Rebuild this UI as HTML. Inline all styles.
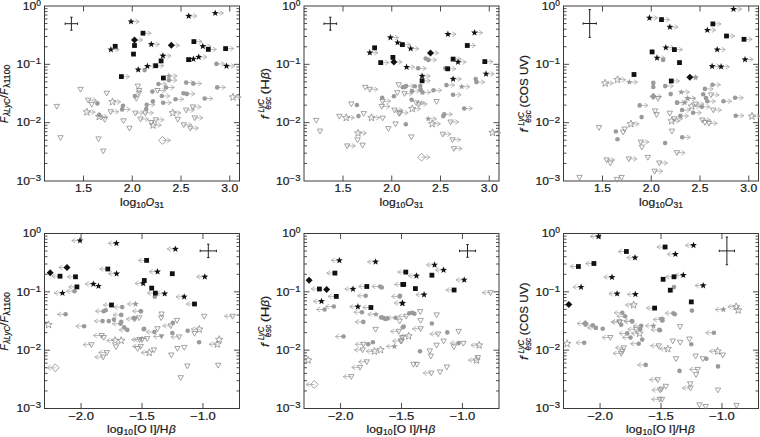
<!DOCTYPE html>
<html><head><meta charset="utf-8"><style>
html,body{margin:0;padding:0;background:#fff;}
svg{display:block;}
text{font-family:"Liberation Sans",sans-serif;font-size:11.2px;fill:#1a1a1a;stroke:#1a1a1a;stroke-width:0.22px;}
</style></head><body>
<svg width="760" height="437" viewBox="0 0 760 437">
<rect width="760" height="437" fill="#fff"/>
<path d="M83.50 181.00v-5.5M83.50 6.00v5.5M132.25 181.00v-5.5M132.25 6.00v5.5M181.00 181.00v-5.5M181.00 6.00v5.5M229.75 181.00v-5.5M229.75 6.00v5.5M44.50 163.44h3M239.50 163.44h-3M44.50 153.17h3M239.50 153.17h-3M44.50 145.88h3M239.50 145.88h-3M44.50 140.23h3M239.50 140.23h-3M44.50 135.61h3M239.50 135.61h-3M44.50 131.70h3M239.50 131.70h-3M44.50 128.32h3M239.50 128.32h-3M44.50 125.34h3M239.50 125.34h-3M44.50 122.67h5.5M239.50 122.67h-5.5M44.50 105.11h3M239.50 105.11h-3M44.50 94.83h3M239.50 94.83h-3M44.50 87.55h3M239.50 87.55h-3M44.50 81.89h3M239.50 81.89h-3M44.50 77.27h3M239.50 77.27h-3M44.50 73.37h3M239.50 73.37h-3M44.50 69.99h3M239.50 69.99h-3M44.50 67.00h3M239.50 67.00h-3M44.50 64.33h5.5M239.50 64.33h-5.5M44.50 46.77h3M239.50 46.77h-3M44.50 36.50h3M239.50 36.50h-3M44.50 29.21h3M239.50 29.21h-3M44.50 23.56h3M239.50 23.56h-3M44.50 18.94h3M239.50 18.94h-3M44.50 15.04h3M239.50 15.04h-3M44.50 11.65h3M239.50 11.65h-3M44.50 8.67h3M239.50 8.67h-3" stroke="#3a3a3a" stroke-width="0.9" fill="none"/>
<rect x="44.50" y="6.00" width="195.00" height="175.00" fill="none" stroke="#3a3a3a" stroke-width="1"/>
<g transform="translate(75.07 192.00)"><text x="0.00" y="0.00" textLength="16.86" lengthAdjust="spacingAndGlyphs">1.5</text></g>
<g transform="translate(123.82 192.00)"><text x="0.00" y="0.00" textLength="16.86" lengthAdjust="spacingAndGlyphs">2.0</text></g>
<g transform="translate(172.57 192.00)"><text x="0.00" y="0.00" textLength="16.86" lengthAdjust="spacingAndGlyphs">2.5</text></g>
<g transform="translate(221.32 192.00)"><text x="0.00" y="0.00" textLength="16.86" lengthAdjust="spacingAndGlyphs">3.0</text></g>
<g transform="translate(16.60 184.75)"><text x="0.00" y="0.00" textLength="13.49" lengthAdjust="spacingAndGlyphs">10</text><text x="13.49" y="-3.90" style="font-size:8.3px" textLength="10.91" lengthAdjust="spacingAndGlyphs">−3</text></g>
<g transform="translate(16.60 126.42)"><text x="0.00" y="0.00" textLength="13.49" lengthAdjust="spacingAndGlyphs">10</text><text x="13.49" y="-3.90" style="font-size:8.3px" textLength="10.91" lengthAdjust="spacingAndGlyphs">−2</text></g>
<g transform="translate(16.60 68.08)"><text x="0.00" y="0.00" textLength="13.49" lengthAdjust="spacingAndGlyphs">10</text><text x="13.49" y="-3.90" style="font-size:8.3px" textLength="10.91" lengthAdjust="spacingAndGlyphs">−1</text></g>
<g transform="translate(22.80 9.75)"><text x="0.00" y="0.00" textLength="13.49" lengthAdjust="spacingAndGlyphs">10</text><text x="13.49" y="-3.90" style="font-size:8.3px" textLength="4.71" lengthAdjust="spacingAndGlyphs">0</text></g>
<path d="M343.00 181.00v-5.5M343.00 6.00v5.5M391.75 181.00v-5.5M391.75 6.00v5.5M440.50 181.00v-5.5M440.50 6.00v5.5M489.25 181.00v-5.5M489.25 6.00v5.5M304.00 163.44h3M499.00 163.44h-3M304.00 153.17h3M499.00 153.17h-3M304.00 145.88h3M499.00 145.88h-3M304.00 140.23h3M499.00 140.23h-3M304.00 135.61h3M499.00 135.61h-3M304.00 131.70h3M499.00 131.70h-3M304.00 128.32h3M499.00 128.32h-3M304.00 125.34h3M499.00 125.34h-3M304.00 122.67h5.5M499.00 122.67h-5.5M304.00 105.11h3M499.00 105.11h-3M304.00 94.83h3M499.00 94.83h-3M304.00 87.55h3M499.00 87.55h-3M304.00 81.89h3M499.00 81.89h-3M304.00 77.27h3M499.00 77.27h-3M304.00 73.37h3M499.00 73.37h-3M304.00 69.99h3M499.00 69.99h-3M304.00 67.00h3M499.00 67.00h-3M304.00 64.33h5.5M499.00 64.33h-5.5M304.00 46.77h3M499.00 46.77h-3M304.00 36.50h3M499.00 36.50h-3M304.00 29.21h3M499.00 29.21h-3M304.00 23.56h3M499.00 23.56h-3M304.00 18.94h3M499.00 18.94h-3M304.00 15.04h3M499.00 15.04h-3M304.00 11.65h3M499.00 11.65h-3M304.00 8.67h3M499.00 8.67h-3" stroke="#3a3a3a" stroke-width="0.9" fill="none"/>
<rect x="304.00" y="6.00" width="195.00" height="175.00" fill="none" stroke="#3a3a3a" stroke-width="1"/>
<g transform="translate(334.57 192.00)"><text x="0.00" y="0.00" textLength="16.86" lengthAdjust="spacingAndGlyphs">1.5</text></g>
<g transform="translate(383.32 192.00)"><text x="0.00" y="0.00" textLength="16.86" lengthAdjust="spacingAndGlyphs">2.0</text></g>
<g transform="translate(432.07 192.00)"><text x="0.00" y="0.00" textLength="16.86" lengthAdjust="spacingAndGlyphs">2.5</text></g>
<g transform="translate(480.82 192.00)"><text x="0.00" y="0.00" textLength="16.86" lengthAdjust="spacingAndGlyphs">3.0</text></g>
<g transform="translate(276.10 184.75)"><text x="0.00" y="0.00" textLength="13.49" lengthAdjust="spacingAndGlyphs">10</text><text x="13.49" y="-3.90" style="font-size:8.3px" textLength="10.91" lengthAdjust="spacingAndGlyphs">−3</text></g>
<g transform="translate(276.10 126.42)"><text x="0.00" y="0.00" textLength="13.49" lengthAdjust="spacingAndGlyphs">10</text><text x="13.49" y="-3.90" style="font-size:8.3px" textLength="10.91" lengthAdjust="spacingAndGlyphs">−2</text></g>
<g transform="translate(276.10 68.08)"><text x="0.00" y="0.00" textLength="13.49" lengthAdjust="spacingAndGlyphs">10</text><text x="13.49" y="-3.90" style="font-size:8.3px" textLength="10.91" lengthAdjust="spacingAndGlyphs">−1</text></g>
<g transform="translate(282.30 9.75)"><text x="0.00" y="0.00" textLength="13.49" lengthAdjust="spacingAndGlyphs">10</text><text x="13.49" y="-3.90" style="font-size:8.3px" textLength="4.71" lengthAdjust="spacingAndGlyphs">0</text></g>
<path d="M602.50 181.00v-5.5M602.50 6.00v5.5M651.25 181.00v-5.5M651.25 6.00v5.5M700.00 181.00v-5.5M700.00 6.00v5.5M748.75 181.00v-5.5M748.75 6.00v5.5M563.50 163.44h3M758.50 163.44h-3M563.50 153.17h3M758.50 153.17h-3M563.50 145.88h3M758.50 145.88h-3M563.50 140.23h3M758.50 140.23h-3M563.50 135.61h3M758.50 135.61h-3M563.50 131.70h3M758.50 131.70h-3M563.50 128.32h3M758.50 128.32h-3M563.50 125.34h3M758.50 125.34h-3M563.50 122.67h5.5M758.50 122.67h-5.5M563.50 105.11h3M758.50 105.11h-3M563.50 94.83h3M758.50 94.83h-3M563.50 87.55h3M758.50 87.55h-3M563.50 81.89h3M758.50 81.89h-3M563.50 77.27h3M758.50 77.27h-3M563.50 73.37h3M758.50 73.37h-3M563.50 69.99h3M758.50 69.99h-3M563.50 67.00h3M758.50 67.00h-3M563.50 64.33h5.5M758.50 64.33h-5.5M563.50 46.77h3M758.50 46.77h-3M563.50 36.50h3M758.50 36.50h-3M563.50 29.21h3M758.50 29.21h-3M563.50 23.56h3M758.50 23.56h-3M563.50 18.94h3M758.50 18.94h-3M563.50 15.04h3M758.50 15.04h-3M563.50 11.65h3M758.50 11.65h-3M563.50 8.67h3M758.50 8.67h-3" stroke="#3a3a3a" stroke-width="0.9" fill="none"/>
<rect x="563.50" y="6.00" width="195.00" height="175.00" fill="none" stroke="#3a3a3a" stroke-width="1"/>
<g transform="translate(594.07 192.00)"><text x="0.00" y="0.00" textLength="16.86" lengthAdjust="spacingAndGlyphs">1.5</text></g>
<g transform="translate(642.82 192.00)"><text x="0.00" y="0.00" textLength="16.86" lengthAdjust="spacingAndGlyphs">2.0</text></g>
<g transform="translate(691.57 192.00)"><text x="0.00" y="0.00" textLength="16.86" lengthAdjust="spacingAndGlyphs">2.5</text></g>
<g transform="translate(740.32 192.00)"><text x="0.00" y="0.00" textLength="16.86" lengthAdjust="spacingAndGlyphs">3.0</text></g>
<g transform="translate(535.60 184.75)"><text x="0.00" y="0.00" textLength="13.49" lengthAdjust="spacingAndGlyphs">10</text><text x="13.49" y="-3.90" style="font-size:8.3px" textLength="10.91" lengthAdjust="spacingAndGlyphs">−3</text></g>
<g transform="translate(535.60 126.42)"><text x="0.00" y="0.00" textLength="13.49" lengthAdjust="spacingAndGlyphs">10</text><text x="13.49" y="-3.90" style="font-size:8.3px" textLength="10.91" lengthAdjust="spacingAndGlyphs">−2</text></g>
<g transform="translate(535.60 68.08)"><text x="0.00" y="0.00" textLength="13.49" lengthAdjust="spacingAndGlyphs">10</text><text x="13.49" y="-3.90" style="font-size:8.3px" textLength="10.91" lengthAdjust="spacingAndGlyphs">−1</text></g>
<g transform="translate(541.80 9.75)"><text x="0.00" y="0.00" textLength="13.49" lengthAdjust="spacingAndGlyphs">10</text><text x="13.49" y="-3.90" style="font-size:8.3px" textLength="4.71" lengthAdjust="spacingAndGlyphs">0</text></g>
<path d="M81.06 408.50v-5.5M81.06 233.50v5.5M142.00 408.50v-5.5M142.00 233.50v5.5M202.94 408.50v-5.5M202.94 233.50v5.5M44.50 390.94h3M239.50 390.94h-3M44.50 380.67h3M239.50 380.67h-3M44.50 373.38h3M239.50 373.38h-3M44.50 367.73h3M239.50 367.73h-3M44.50 363.11h3M239.50 363.11h-3M44.50 359.20h3M239.50 359.20h-3M44.50 355.82h3M239.50 355.82h-3M44.50 352.84h3M239.50 352.84h-3M44.50 350.17h5.5M239.50 350.17h-5.5M44.50 332.61h3M239.50 332.61h-3M44.50 322.33h3M239.50 322.33h-3M44.50 315.05h3M239.50 315.05h-3M44.50 309.39h3M239.50 309.39h-3M44.50 304.77h3M239.50 304.77h-3M44.50 300.87h3M239.50 300.87h-3M44.50 297.49h3M239.50 297.49h-3M44.50 294.50h3M239.50 294.50h-3M44.50 291.83h5.5M239.50 291.83h-5.5M44.50 274.27h3M239.50 274.27h-3M44.50 264.00h3M239.50 264.00h-3M44.50 256.71h3M239.50 256.71h-3M44.50 251.06h3M239.50 251.06h-3M44.50 246.44h3M239.50 246.44h-3M44.50 242.54h3M239.50 242.54h-3M44.50 239.15h3M239.50 239.15h-3M44.50 236.17h3M239.50 236.17h-3" stroke="#3a3a3a" stroke-width="0.9" fill="none"/>
<rect x="44.50" y="233.50" width="195.00" height="175.00" fill="none" stroke="#3a3a3a" stroke-width="1"/>
<g transform="translate(68.19 419.50)"><text x="0.00" y="0.00" textLength="25.74" lengthAdjust="spacingAndGlyphs">−2.0</text></g>
<g transform="translate(129.13 419.50)"><text x="0.00" y="0.00" textLength="25.74" lengthAdjust="spacingAndGlyphs">−1.5</text></g>
<g transform="translate(190.07 419.50)"><text x="0.00" y="0.00" textLength="25.74" lengthAdjust="spacingAndGlyphs">−1.0</text></g>
<g transform="translate(16.60 412.25)"><text x="0.00" y="0.00" textLength="13.49" lengthAdjust="spacingAndGlyphs">10</text><text x="13.49" y="-3.90" style="font-size:8.3px" textLength="10.91" lengthAdjust="spacingAndGlyphs">−3</text></g>
<g transform="translate(16.60 353.92)"><text x="0.00" y="0.00" textLength="13.49" lengthAdjust="spacingAndGlyphs">10</text><text x="13.49" y="-3.90" style="font-size:8.3px" textLength="10.91" lengthAdjust="spacingAndGlyphs">−2</text></g>
<g transform="translate(16.60 295.58)"><text x="0.00" y="0.00" textLength="13.49" lengthAdjust="spacingAndGlyphs">10</text><text x="13.49" y="-3.90" style="font-size:8.3px" textLength="10.91" lengthAdjust="spacingAndGlyphs">−1</text></g>
<g transform="translate(22.80 237.25)"><text x="0.00" y="0.00" textLength="13.49" lengthAdjust="spacingAndGlyphs">10</text><text x="13.49" y="-3.90" style="font-size:8.3px" textLength="4.71" lengthAdjust="spacingAndGlyphs">0</text></g>
<path d="M340.56 408.50v-5.5M340.56 233.50v5.5M401.50 408.50v-5.5M401.50 233.50v5.5M462.44 408.50v-5.5M462.44 233.50v5.5M304.00 390.94h3M499.00 390.94h-3M304.00 380.67h3M499.00 380.67h-3M304.00 373.38h3M499.00 373.38h-3M304.00 367.73h3M499.00 367.73h-3M304.00 363.11h3M499.00 363.11h-3M304.00 359.20h3M499.00 359.20h-3M304.00 355.82h3M499.00 355.82h-3M304.00 352.84h3M499.00 352.84h-3M304.00 350.17h5.5M499.00 350.17h-5.5M304.00 332.61h3M499.00 332.61h-3M304.00 322.33h3M499.00 322.33h-3M304.00 315.05h3M499.00 315.05h-3M304.00 309.39h3M499.00 309.39h-3M304.00 304.77h3M499.00 304.77h-3M304.00 300.87h3M499.00 300.87h-3M304.00 297.49h3M499.00 297.49h-3M304.00 294.50h3M499.00 294.50h-3M304.00 291.83h5.5M499.00 291.83h-5.5M304.00 274.27h3M499.00 274.27h-3M304.00 264.00h3M499.00 264.00h-3M304.00 256.71h3M499.00 256.71h-3M304.00 251.06h3M499.00 251.06h-3M304.00 246.44h3M499.00 246.44h-3M304.00 242.54h3M499.00 242.54h-3M304.00 239.15h3M499.00 239.15h-3M304.00 236.17h3M499.00 236.17h-3" stroke="#3a3a3a" stroke-width="0.9" fill="none"/>
<rect x="304.00" y="233.50" width="195.00" height="175.00" fill="none" stroke="#3a3a3a" stroke-width="1"/>
<g transform="translate(327.69 419.50)"><text x="0.00" y="0.00" textLength="25.74" lengthAdjust="spacingAndGlyphs">−2.0</text></g>
<g transform="translate(388.63 419.50)"><text x="0.00" y="0.00" textLength="25.74" lengthAdjust="spacingAndGlyphs">−1.5</text></g>
<g transform="translate(449.57 419.50)"><text x="0.00" y="0.00" textLength="25.74" lengthAdjust="spacingAndGlyphs">−1.0</text></g>
<g transform="translate(276.10 412.25)"><text x="0.00" y="0.00" textLength="13.49" lengthAdjust="spacingAndGlyphs">10</text><text x="13.49" y="-3.90" style="font-size:8.3px" textLength="10.91" lengthAdjust="spacingAndGlyphs">−3</text></g>
<g transform="translate(276.10 353.92)"><text x="0.00" y="0.00" textLength="13.49" lengthAdjust="spacingAndGlyphs">10</text><text x="13.49" y="-3.90" style="font-size:8.3px" textLength="10.91" lengthAdjust="spacingAndGlyphs">−2</text></g>
<g transform="translate(276.10 295.58)"><text x="0.00" y="0.00" textLength="13.49" lengthAdjust="spacingAndGlyphs">10</text><text x="13.49" y="-3.90" style="font-size:8.3px" textLength="10.91" lengthAdjust="spacingAndGlyphs">−1</text></g>
<g transform="translate(282.30 237.25)"><text x="0.00" y="0.00" textLength="13.49" lengthAdjust="spacingAndGlyphs">10</text><text x="13.49" y="-3.90" style="font-size:8.3px" textLength="4.71" lengthAdjust="spacingAndGlyphs">0</text></g>
<path d="M600.06 408.50v-5.5M600.06 233.50v5.5M661.00 408.50v-5.5M661.00 233.50v5.5M721.94 408.50v-5.5M721.94 233.50v5.5M563.50 390.94h3M758.50 390.94h-3M563.50 380.67h3M758.50 380.67h-3M563.50 373.38h3M758.50 373.38h-3M563.50 367.73h3M758.50 367.73h-3M563.50 363.11h3M758.50 363.11h-3M563.50 359.20h3M758.50 359.20h-3M563.50 355.82h3M758.50 355.82h-3M563.50 352.84h3M758.50 352.84h-3M563.50 350.17h5.5M758.50 350.17h-5.5M563.50 332.61h3M758.50 332.61h-3M563.50 322.33h3M758.50 322.33h-3M563.50 315.05h3M758.50 315.05h-3M563.50 309.39h3M758.50 309.39h-3M563.50 304.77h3M758.50 304.77h-3M563.50 300.87h3M758.50 300.87h-3M563.50 297.49h3M758.50 297.49h-3M563.50 294.50h3M758.50 294.50h-3M563.50 291.83h5.5M758.50 291.83h-5.5M563.50 274.27h3M758.50 274.27h-3M563.50 264.00h3M758.50 264.00h-3M563.50 256.71h3M758.50 256.71h-3M563.50 251.06h3M758.50 251.06h-3M563.50 246.44h3M758.50 246.44h-3M563.50 242.54h3M758.50 242.54h-3M563.50 239.15h3M758.50 239.15h-3M563.50 236.17h3M758.50 236.17h-3" stroke="#3a3a3a" stroke-width="0.9" fill="none"/>
<rect x="563.50" y="233.50" width="195.00" height="175.00" fill="none" stroke="#3a3a3a" stroke-width="1"/>
<g transform="translate(587.19 419.50)"><text x="0.00" y="0.00" textLength="25.74" lengthAdjust="spacingAndGlyphs">−2.0</text></g>
<g transform="translate(648.13 419.50)"><text x="0.00" y="0.00" textLength="25.74" lengthAdjust="spacingAndGlyphs">−1.5</text></g>
<g transform="translate(709.07 419.50)"><text x="0.00" y="0.00" textLength="25.74" lengthAdjust="spacingAndGlyphs">−1.0</text></g>
<g transform="translate(535.60 412.25)"><text x="0.00" y="0.00" textLength="13.49" lengthAdjust="spacingAndGlyphs">10</text><text x="13.49" y="-3.90" style="font-size:8.3px" textLength="10.91" lengthAdjust="spacingAndGlyphs">−3</text></g>
<g transform="translate(535.60 353.92)"><text x="0.00" y="0.00" textLength="13.49" lengthAdjust="spacingAndGlyphs">10</text><text x="13.49" y="-3.90" style="font-size:8.3px" textLength="10.91" lengthAdjust="spacingAndGlyphs">−2</text></g>
<g transform="translate(535.60 295.58)"><text x="0.00" y="0.00" textLength="13.49" lengthAdjust="spacingAndGlyphs">10</text><text x="13.49" y="-3.90" style="font-size:8.3px" textLength="10.91" lengthAdjust="spacingAndGlyphs">−1</text></g>
<g transform="translate(541.80 237.25)"><text x="0.00" y="0.00" textLength="13.49" lengthAdjust="spacingAndGlyphs">10</text><text x="13.49" y="-3.90" style="font-size:8.3px" textLength="4.71" lengthAdjust="spacingAndGlyphs">0</text></g>
<g transform="translate(120.08 206.00)"><text x="0.00" y="0.00" textLength="16.16" lengthAdjust="spacingAndGlyphs">log</text><text x="16.16" y="1.80" style="font-size:8.3px" textLength="9.42" lengthAdjust="spacingAndGlyphs">10</text><text x="25.77" y="0.00" font-style="italic" textLength="8.34" lengthAdjust="spacingAndGlyphs">O</text><text x="34.42" y="1.80" style="font-size:8.3px" textLength="9.42" lengthAdjust="spacingAndGlyphs">31</text></g>
<g transform="translate(379.58 206.00)"><text x="0.00" y="0.00" textLength="16.16" lengthAdjust="spacingAndGlyphs">log</text><text x="16.16" y="1.80" style="font-size:8.3px" textLength="9.42" lengthAdjust="spacingAndGlyphs">10</text><text x="25.77" y="0.00" font-style="italic" textLength="8.34" lengthAdjust="spacingAndGlyphs">O</text><text x="34.42" y="1.80" style="font-size:8.3px" textLength="9.42" lengthAdjust="spacingAndGlyphs">31</text></g>
<g transform="translate(639.08 206.00)"><text x="0.00" y="0.00" textLength="16.16" lengthAdjust="spacingAndGlyphs">log</text><text x="16.16" y="1.80" style="font-size:8.3px" textLength="9.42" lengthAdjust="spacingAndGlyphs">10</text><text x="25.77" y="0.00" font-style="italic" textLength="8.34" lengthAdjust="spacingAndGlyphs">O</text><text x="34.42" y="1.80" style="font-size:8.3px" textLength="9.42" lengthAdjust="spacingAndGlyphs">31</text></g>
<g transform="translate(107.05 433.20)"><text x="0.00" y="0.00" textLength="16.16" lengthAdjust="spacingAndGlyphs">log</text><text x="16.56" y="1.80" style="font-size:8.3px" textLength="9.42" lengthAdjust="spacingAndGlyphs">10</text><text x="26.77" y="0.00" textLength="34.65" lengthAdjust="spacingAndGlyphs">[O I]/H</text><text x="61.93" y="0.00" font-style="italic" textLength="6.76" lengthAdjust="spacingAndGlyphs">β</text></g>
<g transform="translate(366.55 433.20)"><text x="0.00" y="0.00" textLength="16.16" lengthAdjust="spacingAndGlyphs">log</text><text x="16.56" y="1.80" style="font-size:8.3px" textLength="9.42" lengthAdjust="spacingAndGlyphs">10</text><text x="26.77" y="0.00" textLength="34.65" lengthAdjust="spacingAndGlyphs">[O I]/H</text><text x="61.93" y="0.00" font-style="italic" textLength="6.76" lengthAdjust="spacingAndGlyphs">β</text></g>
<g transform="translate(626.05 433.20)"><text x="0.00" y="0.00" textLength="16.16" lengthAdjust="spacingAndGlyphs">log</text><text x="16.56" y="1.80" style="font-size:8.3px" textLength="9.42" lengthAdjust="spacingAndGlyphs">10</text><text x="26.77" y="0.00" textLength="34.65" lengthAdjust="spacingAndGlyphs">[O I]/H</text><text x="61.93" y="0.00" font-style="italic" textLength="6.76" lengthAdjust="spacingAndGlyphs">β</text></g>
<g transform="translate(7.80 93.70) rotate(-90) translate(-29.18 0)"><text x="0.00" y="0.00" font-style="italic" textLength="6.10" lengthAdjust="spacingAndGlyphs">F</text><text x="6.90" y="2.50" style="font-size:8.3px" font-style="italic" textLength="17.78" lengthAdjust="spacingAndGlyphs">λLyC</text><text x="24.68" y="0.00" textLength="3.57" lengthAdjust="spacingAndGlyphs">/</text><text x="28.25" y="0.00" font-style="italic" textLength="6.10" lengthAdjust="spacingAndGlyphs">F</text><text x="35.15" y="2.50" style="font-size:8.3px" textLength="23.21" lengthAdjust="spacingAndGlyphs">λ1100</text></g>
<g transform="translate(268.50 93.70) rotate(-90) translate(-25.56 0)"><text x="0.00" y="0.00" font-style="italic" textLength="3.73" lengthAdjust="spacingAndGlyphs">f</text><text x="6.73" y="-4.40" style="font-size:8.3px" font-style="italic" textLength="13.41" lengthAdjust="spacingAndGlyphs">LyC</text><text x="9.73" y="2.60" style="font-size:8.3px" font-style="italic" textLength="12.48" lengthAdjust="spacingAndGlyphs">esc</text><text x="24.74" y="0.00" textLength="15.48" lengthAdjust="spacingAndGlyphs"> (H</text><text x="40.21" y="0.00" font-style="italic" textLength="6.76" lengthAdjust="spacingAndGlyphs">β</text><text x="46.98" y="0.00" textLength="4.14" lengthAdjust="spacingAndGlyphs">)</text></g>
<g transform="translate(528.00 93.70) rotate(-90) translate(-38.72 0)"><text x="0.00" y="0.00" font-style="italic" textLength="3.73" lengthAdjust="spacingAndGlyphs">f</text><text x="6.73" y="-4.40" style="font-size:8.3px" font-style="italic" textLength="13.41" lengthAdjust="spacingAndGlyphs">LyC</text><text x="9.73" y="2.60" style="font-size:8.3px" font-style="italic" textLength="12.48" lengthAdjust="spacingAndGlyphs">esc</text><text x="24.94" y="0.00" textLength="52.49" lengthAdjust="spacingAndGlyphs"> (COS UV)</text></g>
<g transform="translate(7.80 321.40) rotate(-90) translate(-29.18 0)"><text x="0.00" y="0.00" font-style="italic" textLength="6.10" lengthAdjust="spacingAndGlyphs">F</text><text x="6.90" y="2.50" style="font-size:8.3px" font-style="italic" textLength="17.78" lengthAdjust="spacingAndGlyphs">λLyC</text><text x="24.68" y="0.00" textLength="3.57" lengthAdjust="spacingAndGlyphs">/</text><text x="28.25" y="0.00" font-style="italic" textLength="6.10" lengthAdjust="spacingAndGlyphs">F</text><text x="35.15" y="2.50" style="font-size:8.3px" textLength="23.21" lengthAdjust="spacingAndGlyphs">λ1100</text></g>
<g transform="translate(268.50 321.40) rotate(-90) translate(-25.56 0)"><text x="0.00" y="0.00" font-style="italic" textLength="3.73" lengthAdjust="spacingAndGlyphs">f</text><text x="6.73" y="-4.40" style="font-size:8.3px" font-style="italic" textLength="13.41" lengthAdjust="spacingAndGlyphs">LyC</text><text x="9.73" y="2.60" style="font-size:8.3px" font-style="italic" textLength="12.48" lengthAdjust="spacingAndGlyphs">esc</text><text x="24.74" y="0.00" textLength="15.48" lengthAdjust="spacingAndGlyphs"> (H</text><text x="40.21" y="0.00" font-style="italic" textLength="6.76" lengthAdjust="spacingAndGlyphs">β</text><text x="46.98" y="0.00" textLength="4.14" lengthAdjust="spacingAndGlyphs">)</text></g>
<g transform="translate(528.00 321.40) rotate(-90) translate(-38.72 0)"><text x="0.00" y="0.00" font-style="italic" textLength="3.73" lengthAdjust="spacingAndGlyphs">f</text><text x="6.73" y="-4.40" style="font-size:8.3px" font-style="italic" textLength="13.41" lengthAdjust="spacingAndGlyphs">LyC</text><text x="9.73" y="2.60" style="font-size:8.3px" font-style="italic" textLength="12.48" lengthAdjust="spacingAndGlyphs">esc</text><text x="24.94" y="0.00" textLength="52.49" lengthAdjust="spacingAndGlyphs"> (COS UV)</text></g>
<path d="M157.50 90.50H165.70M162.10 88.10L165.70 90.50L162.10 92.90" stroke="#a8a8a8" stroke-width="0.8" fill="none"/>
<path d="M233.00 97.20H241.20M237.60 94.80L241.20 97.20L237.60 99.60" stroke="#a8a8a8" stroke-width="0.8" fill="none"/>
<path d="M145.30 112.90H153.50M149.90 110.50L153.50 112.90L149.90 115.30" stroke="#a8a8a8" stroke-width="0.8" fill="none"/>
<path d="M140.50 119.10H148.70M145.10 116.70L148.70 119.10L145.10 121.50" stroke="#a8a8a8" stroke-width="0.8" fill="none"/>
<path d="M155.90 119.80H164.10M160.50 117.40L164.10 119.80L160.50 122.20" stroke="#a8a8a8" stroke-width="0.8" fill="none"/>
<path d="M153.10 125.20H161.30M157.70 122.80L161.30 125.20L157.70 127.60" stroke="#a8a8a8" stroke-width="0.8" fill="none"/>
<path d="M172.80 112.90H181.00M177.40 110.50L181.00 112.90L177.40 115.30" stroke="#a8a8a8" stroke-width="0.8" fill="none"/>
<path d="M186.10 110.10H194.30M190.70 107.70L194.30 110.10L190.70 112.50" stroke="#a8a8a8" stroke-width="0.8" fill="none"/>
<path d="M192.90 106.90H201.10M197.50 104.50L201.10 106.90L197.50 109.30" stroke="#a8a8a8" stroke-width="0.8" fill="none"/>
<path d="M194.80 117.90H203.00M199.40 115.50L203.00 117.90L199.40 120.30" stroke="#a8a8a8" stroke-width="0.8" fill="none"/>
<path d="M183.80 124.80H192.00M188.40 122.40L192.00 124.80L188.40 127.20" stroke="#a8a8a8" stroke-width="0.8" fill="none"/>
<path d="M190.30 128.20H198.50M194.90 125.80L198.50 128.20L194.90 130.60" stroke="#a8a8a8" stroke-width="0.8" fill="none"/>
<path d="M162.50 140.40H170.70M167.10 138.00L170.70 140.40L167.10 142.80" stroke="#a8a8a8" stroke-width="0.8" fill="none"/>
<path d="M88.20 100.20H96.40M92.80 97.80L96.40 100.20L92.80 102.60" stroke="#a8a8a8" stroke-width="0.8" fill="none"/>
<path d="M112.50 101.90H120.70M117.10 99.50L120.70 101.90L117.10 104.30" stroke="#a8a8a8" stroke-width="0.8" fill="none"/>
<path d="M86.90 112.10H95.10M91.50 109.70L95.10 112.10L91.50 114.50" stroke="#a8a8a8" stroke-width="0.8" fill="none"/>
<path d="M99.20 116.70H107.40M103.80 114.30L107.40 116.70L103.80 119.10" stroke="#a8a8a8" stroke-width="0.8" fill="none"/>
<path d="M110.70 111.70H118.90M115.30 109.30L118.90 111.70L115.30 114.10" stroke="#a8a8a8" stroke-width="0.8" fill="none"/>
<path d="M135.40 113.10H143.60M140.00 110.70L143.60 113.10L140.00 115.50" stroke="#a8a8a8" stroke-width="0.8" fill="none"/>
<path d="M216.50 63.90H224.70M221.10 61.50L224.70 63.90L221.10 66.30" stroke="#a8a8a8" stroke-width="0.8" fill="none"/>
<path d="M168.90 76.00H177.10M173.50 73.60L177.10 76.00L173.50 78.40" stroke="#a8a8a8" stroke-width="0.8" fill="none"/>
<path d="M168.90 80.20H177.10M173.50 77.80L177.10 80.20L173.50 82.60" stroke="#a8a8a8" stroke-width="0.8" fill="none"/>
<path d="M158.40 84.00H166.60M163.00 81.60L166.60 84.00L163.00 86.40" stroke="#a8a8a8" stroke-width="0.8" fill="none"/>
<path d="M166.10 87.50H174.30M170.70 85.10L174.30 87.50L170.70 89.90" stroke="#a8a8a8" stroke-width="0.8" fill="none"/>
<path d="M186.20 82.60H194.40M190.80 80.20L194.40 82.60L190.80 85.00" stroke="#a8a8a8" stroke-width="0.8" fill="none"/>
<path d="M193.40 83.60H201.60M198.00 81.20L201.60 83.60L198.00 86.00" stroke="#a8a8a8" stroke-width="0.8" fill="none"/>
<path d="M217.20 87.40H225.40M221.80 85.00L225.40 87.40L221.80 89.80" stroke="#a8a8a8" stroke-width="0.8" fill="none"/>
<path d="M186.80 93.90H195.00M191.40 91.50L195.00 93.90L191.40 96.30" stroke="#a8a8a8" stroke-width="0.8" fill="none"/>
<path d="M175.50 99.30H183.70M180.10 96.90L183.70 99.30L180.10 101.70" stroke="#a8a8a8" stroke-width="0.8" fill="none"/>
<path d="M204.70 98.50H212.90M209.30 96.10L212.90 98.50L209.30 100.90" stroke="#a8a8a8" stroke-width="0.8" fill="none"/>
<path d="M161.80 96.00H170.00M166.40 93.60L170.00 96.00L166.40 98.40" stroke="#a8a8a8" stroke-width="0.8" fill="none"/>
<path d="M163.20 102.80H171.40M167.80 100.40L171.40 102.80L167.80 105.20" stroke="#a8a8a8" stroke-width="0.8" fill="none"/>
<path d="M146.70 104.70H154.90M151.30 102.30L154.90 104.70L151.30 107.10" stroke="#a8a8a8" stroke-width="0.8" fill="none"/>
<path d="M122.10 109.40H130.30M126.70 107.00L130.30 109.40L126.70 111.80" stroke="#a8a8a8" stroke-width="0.8" fill="none"/>
<path d="M131.00 21.60H139.20M135.60 19.20L139.20 21.60L135.60 24.00" stroke="#a8a8a8" stroke-width="0.8" fill="none"/>
<path d="M143.00 33.20H151.20M147.60 30.80L151.20 33.20L147.60 35.60" stroke="#a8a8a8" stroke-width="0.8" fill="none"/>
<path d="M134.50 40.00H142.70M139.10 37.60L142.70 40.00L139.10 42.40" stroke="#a8a8a8" stroke-width="0.8" fill="none"/>
<path d="M110.90 49.60H119.10M115.50 47.20L119.10 49.60L115.50 52.00" stroke="#a8a8a8" stroke-width="0.8" fill="none"/>
<path d="M121.40 76.60H129.60M126.00 74.20L129.60 76.60L126.00 79.00" stroke="#a8a8a8" stroke-width="0.8" fill="none"/>
<path d="M188.70 16.00H196.90M193.30 13.60L196.90 16.00L193.30 18.40" stroke="#a8a8a8" stroke-width="0.8" fill="none"/>
<path d="M215.20 13.10H223.40M219.80 10.70L223.40 13.10L219.80 15.50" stroke="#a8a8a8" stroke-width="0.8" fill="none"/>
<path d="M151.30 44.30H159.50M155.90 41.90L159.50 44.30L155.90 46.70" stroke="#a8a8a8" stroke-width="0.8" fill="none"/>
<path d="M171.30 45.30H179.50M175.90 42.90L179.50 45.30L175.90 47.70" stroke="#a8a8a8" stroke-width="0.8" fill="none"/>
<path d="M193.90 41.60H202.10M198.50 39.20L202.10 41.60L198.50 44.00" stroke="#a8a8a8" stroke-width="0.8" fill="none"/>
<path d="M202.80 46.30H211.00M207.40 43.90L211.00 46.30L207.40 48.70" stroke="#a8a8a8" stroke-width="0.8" fill="none"/>
<path d="M208.30 49.40H216.50M212.90 47.00L216.50 49.40L212.90 51.80" stroke="#a8a8a8" stroke-width="0.8" fill="none"/>
<path d="M225.60 48.60H233.80M230.20 46.20L233.80 48.60L230.20 51.00" stroke="#a8a8a8" stroke-width="0.8" fill="none"/>
<path d="M162.90 55.80H171.10M167.50 53.40L171.10 55.80L167.50 58.20" stroke="#a8a8a8" stroke-width="0.8" fill="none"/>
<path d="M155.70 65.70H163.90M160.30 63.30L163.90 65.70L160.30 68.10" stroke="#a8a8a8" stroke-width="0.8" fill="none"/>
<path d="M147.40 66.20H155.60M152.00 63.80L155.60 66.20L152.00 68.60" stroke="#a8a8a8" stroke-width="0.8" fill="none"/>
<path d="M198.70 57.00H206.90M203.30 54.60L206.90 57.00L203.30 59.40" stroke="#a8a8a8" stroke-width="0.8" fill="none"/>
<path d="M226.50 66.00H234.70M231.10 63.60L234.70 66.00L231.10 68.40" stroke="#a8a8a8" stroke-width="0.8" fill="none"/>
<polygon points="135.10,84.10 140.50,84.10 137.80,88.90" fill="none" stroke="#8c8c8c" stroke-width="0.8"/>
<polygon points="136.40,88.50 141.80,88.50 139.10,93.30" fill="none" stroke="#8c8c8c" stroke-width="0.8"/>
<polygon points="154.80,88.50 160.20,88.50 157.50,93.30" fill="none" stroke="#8c8c8c" stroke-width="0.8"/>
<polygon points="77.90,87.30 83.30,87.30 80.60,92.10" fill="none" stroke="#8c8c8c" stroke-width="0.8"/>
<polygon points="104.00,91.20 109.40,91.20 106.70,96.00" fill="none" stroke="#8c8c8c" stroke-width="0.8"/>
<polygon points="133.60,96.40 139.00,96.40 136.30,101.20" fill="none" stroke="#8c8c8c" stroke-width="0.8"/>
<polygon points="233.00,93.30 233.97,95.87 236.71,95.99 234.57,97.71 235.29,100.36 233.00,98.85 230.71,100.36 231.43,97.71 229.29,95.99 232.03,95.87" fill="none" stroke="#8c8c8c" stroke-width="0.8"/>
<polygon points="142.60,110.90 148.00,110.90 145.30,115.70" fill="none" stroke="#8c8c8c" stroke-width="0.8"/>
<polygon points="137.80,117.10 143.20,117.10 140.50,121.90" fill="none" stroke="#8c8c8c" stroke-width="0.8"/>
<polygon points="148.60,120.50 154.00,120.50 151.30,125.30" fill="none" stroke="#8c8c8c" stroke-width="0.8"/>
<polygon points="153.20,117.80 158.60,117.80 155.90,122.60" fill="none" stroke="#8c8c8c" stroke-width="0.8"/>
<polygon points="153.10,121.30 154.07,123.87 156.81,123.99 154.67,125.71 155.39,128.36 153.10,126.85 150.81,128.36 151.53,125.71 149.39,123.99 152.13,123.87" fill="none" stroke="#8c8c8c" stroke-width="0.8"/>
<polygon points="172.80,109.00 173.77,111.57 176.51,111.69 174.37,113.41 175.09,116.06 172.80,114.55 170.51,116.06 171.23,113.41 169.09,111.69 171.83,111.57" fill="none" stroke="#8c8c8c" stroke-width="0.8"/>
<polygon points="175.10,117.30 180.50,117.30 177.80,122.10" fill="none" stroke="#8c8c8c" stroke-width="0.8"/>
<polygon points="183.40,108.10 188.80,108.10 186.10,112.90" fill="none" stroke="#8c8c8c" stroke-width="0.8"/>
<polygon points="190.20,104.90 195.60,104.90 192.90,109.70" fill="none" stroke="#8c8c8c" stroke-width="0.8"/>
<polygon points="192.10,115.90 197.50,115.90 194.80,120.70" fill="none" stroke="#8c8c8c" stroke-width="0.8"/>
<polygon points="181.10,122.80 186.50,122.80 183.80,127.60" fill="none" stroke="#8c8c8c" stroke-width="0.8"/>
<polygon points="187.60,126.20 193.00,126.20 190.30,131.00" fill="none" stroke="#8c8c8c" stroke-width="0.8"/>
<polygon points="162.50,136.50 166.40,140.40 162.50,144.30 158.60,140.40" fill="none" stroke="#8c8c8c" stroke-width="0.8"/>
<polygon points="54.10,104.40 59.50,104.40 56.80,109.20" fill="none" stroke="#8c8c8c" stroke-width="0.8"/>
<polygon points="57.80,135.70 63.20,135.70 60.50,140.50" fill="none" stroke="#8c8c8c" stroke-width="0.8"/>
<polygon points="85.50,98.20 90.90,98.20 88.20,103.00" fill="none" stroke="#8c8c8c" stroke-width="0.8"/>
<polygon points="89.00,102.40 94.40,102.40 91.70,107.20" fill="none" stroke="#8c8c8c" stroke-width="0.8"/>
<polygon points="112.50,98.00 113.47,100.57 116.21,100.69 114.07,102.41 114.79,105.06 112.50,103.55 110.21,105.06 110.93,102.41 108.79,100.69 111.53,100.57" fill="none" stroke="#8c8c8c" stroke-width="0.8"/>
<polygon points="86.90,108.20 87.87,110.77 90.61,110.89 88.47,112.61 89.19,115.26 86.90,113.75 84.61,115.26 85.33,112.61 83.19,110.89 85.93,110.77" fill="none" stroke="#8c8c8c" stroke-width="0.8"/>
<polygon points="99.20,112.80 100.17,115.37 102.91,115.49 100.77,117.21 101.49,119.86 99.20,118.35 96.91,119.86 97.63,117.21 95.49,115.49 98.23,115.37" fill="none" stroke="#8c8c8c" stroke-width="0.8"/>
<polygon points="102.00,117.50 107.40,117.50 104.70,122.30" fill="none" stroke="#8c8c8c" stroke-width="0.8"/>
<polygon points="108.00,109.70 113.40,109.70 110.70,114.50" fill="none" stroke="#8c8c8c" stroke-width="0.8"/>
<polygon points="120.80,118.80 126.20,118.80 123.50,123.60" fill="none" stroke="#8c8c8c" stroke-width="0.8"/>
<polygon points="126.80,126.20 132.20,126.20 129.50,131.00" fill="none" stroke="#8c8c8c" stroke-width="0.8"/>
<polygon points="132.70,111.10 138.10,111.10 135.40,115.90" fill="none" stroke="#8c8c8c" stroke-width="0.8"/>
<polygon points="95.80,136.90 101.20,136.90 98.50,141.70" fill="none" stroke="#8c8c8c" stroke-width="0.8"/>
<polygon points="100.60,149.00 106.00,149.00 103.30,153.80" fill="none" stroke="#8c8c8c" stroke-width="0.8"/>
<polygon points="136.30,91.00 141.70,91.00 139.00,95.80" fill="none" stroke="#8c8c8c" stroke-width="0.8"/>
<circle cx="216.50" cy="63.90" r="2.3" fill="#9a9a9a"/>
<circle cx="144.60" cy="70.10" r="2.3" fill="#9a9a9a"/>
<polygon points="168.90,72.60 169.72,74.87 172.13,74.95 170.23,76.43 170.90,78.75 168.90,77.40 166.90,78.75 167.57,76.43 165.67,74.95 168.08,74.87" fill="#9a9a9a"/>
<circle cx="168.90" cy="80.20" r="2.3" fill="#9a9a9a"/>
<circle cx="158.40" cy="84.00" r="2.3" fill="#9a9a9a"/>
<circle cx="166.10" cy="87.50" r="2.3" fill="#9a9a9a"/>
<circle cx="186.20" cy="82.60" r="2.3" fill="#9a9a9a"/>
<circle cx="193.40" cy="83.60" r="2.3" fill="#9a9a9a"/>
<circle cx="217.20" cy="87.40" r="2.3" fill="#9a9a9a"/>
<circle cx="152.40" cy="91.60" r="2.3" fill="#9a9a9a"/>
<circle cx="134.90" cy="96.10" r="2.3" fill="#9a9a9a"/>
<circle cx="183.50" cy="93.30" r="2.3" fill="#9a9a9a"/>
<circle cx="186.80" cy="93.90" r="2.3" fill="#9a9a9a"/>
<circle cx="175.50" cy="99.30" r="2.3" fill="#9a9a9a"/>
<circle cx="204.70" cy="98.50" r="2.3" fill="#9a9a9a"/>
<circle cx="161.80" cy="96.00" r="2.3" fill="#9a9a9a"/>
<circle cx="152.90" cy="101.40" r="2.3" fill="#9a9a9a"/>
<circle cx="163.20" cy="102.80" r="2.3" fill="#9a9a9a"/>
<circle cx="146.70" cy="104.70" r="2.3" fill="#9a9a9a"/>
<circle cx="146.20" cy="109.00" r="2.3" fill="#9a9a9a"/>
<circle cx="97.40" cy="103.40" r="2.3" fill="#9a9a9a"/>
<circle cx="99.20" cy="114.90" r="2.3" fill="#9a9a9a"/>
<circle cx="123.00" cy="105.70" r="2.3" fill="#9a9a9a"/>
<circle cx="122.10" cy="109.40" r="2.3" fill="#9a9a9a"/>
<polygon points="131.00,18.00 131.88,20.39 134.42,20.49 132.43,22.06 133.12,24.51 131.00,23.10 128.88,24.51 129.57,22.06 127.58,20.49 130.12,20.39" fill="#111"/>
<rect x="140.60" y="30.80" width="4.8" height="4.8" fill="#111"/>
<polygon points="134.50,36.50 138.00,40.00 134.50,43.50 131.00,40.00" fill="#111"/>
<rect x="132.10" y="43.10" width="4.8" height="4.8" fill="#111"/>
<rect x="112.80" y="43.90" width="4.8" height="4.8" fill="#111"/>
<polygon points="110.90,46.00 111.78,48.39 114.32,48.49 112.33,50.06 113.02,52.51 110.90,51.10 108.78,52.51 109.47,50.06 107.48,48.49 110.02,48.39" fill="#111"/>
<rect x="131.10" y="51.70" width="4.8" height="4.8" fill="#111"/>
<polygon points="138.20,66.10 139.08,68.49 141.62,68.59 139.63,70.16 140.32,72.61 138.20,71.20 136.08,72.61 136.77,70.16 134.78,68.59 137.32,68.49" fill="#111"/>
<rect x="119.00" y="74.20" width="4.8" height="4.8" fill="#111"/>
<polygon points="188.70,12.40 189.58,14.79 192.12,14.89 190.13,16.46 190.82,18.91 188.70,17.50 186.58,18.91 187.27,16.46 185.28,14.89 187.82,14.79" fill="#111"/>
<polygon points="215.20,9.50 216.08,11.89 218.62,11.99 216.63,13.56 217.32,16.01 215.20,14.60 213.08,16.01 213.77,13.56 211.78,11.99 214.32,11.89" fill="#111"/>
<polygon points="151.30,40.70 152.18,43.09 154.72,43.19 152.73,44.76 153.42,47.21 151.30,45.80 149.18,47.21 149.87,44.76 147.88,43.19 150.42,43.09" fill="#111"/>
<polygon points="171.30,41.80 174.80,45.30 171.30,48.80 167.80,45.30" fill="#111"/>
<rect x="191.50" y="39.20" width="4.8" height="4.8" fill="#111"/>
<polygon points="202.80,42.70 203.68,45.09 206.22,45.19 204.23,46.76 204.92,49.21 202.80,47.80 200.68,49.21 201.37,46.76 199.38,45.19 201.92,45.09" fill="#111"/>
<rect x="205.90" y="47.00" width="4.8" height="4.8" fill="#111"/>
<rect x="223.20" y="46.20" width="4.8" height="4.8" fill="#111"/>
<polygon points="162.90,52.20 163.78,54.59 166.32,54.69 164.33,56.26 165.02,58.71 162.90,57.30 160.78,58.71 161.47,56.26 159.48,54.69 162.02,54.59" fill="#111"/>
<rect x="158.70" y="58.50" width="4.8" height="4.8" fill="#111"/>
<rect x="153.30" y="63.30" width="4.8" height="4.8" fill="#111"/>
<polygon points="147.40,62.60 148.28,64.99 150.82,65.09 148.83,66.66 149.52,69.11 147.40,67.70 145.28,69.11 145.97,66.66 143.98,65.09 146.52,64.99" fill="#111"/>
<rect x="186.20" y="57.20" width="4.8" height="4.8" fill="#111"/>
<polygon points="193.40,55.40 194.28,57.79 196.82,57.89 194.83,59.46 195.52,61.91 193.40,60.50 191.28,61.91 191.97,59.46 189.98,57.89 192.52,57.79" fill="#111"/>
<polygon points="198.70,53.40 199.58,55.79 202.12,55.89 200.13,57.46 200.82,59.91 198.70,58.50 196.58,59.91 197.27,57.46 195.28,55.89 197.82,55.79" fill="#111"/>
<polygon points="226.50,62.40 227.38,64.79 229.92,64.89 227.93,66.46 228.62,68.91 226.50,67.50 224.38,68.91 225.07,66.46 223.08,64.89 225.62,64.79" fill="#111"/>
<rect x="161.00" y="75.60" width="4.8" height="4.8" fill="#111"/>
<path d="M369.80 89.30H378.00M374.40 86.90L378.00 89.30L374.40 91.70" stroke="#a8a8a8" stroke-width="0.8" fill="none"/>
<path d="M404.50 93.60H412.70M409.10 91.20L412.70 93.60L409.10 96.00" stroke="#a8a8a8" stroke-width="0.8" fill="none"/>
<path d="M416.30 102.80H424.50M420.90 100.40L424.50 102.80L420.90 105.20" stroke="#a8a8a8" stroke-width="0.8" fill="none"/>
<path d="M419.00 104.00H427.20M423.60 101.60L427.20 104.00L423.60 106.40" stroke="#a8a8a8" stroke-width="0.8" fill="none"/>
<path d="M412.30 108.80H420.50M416.90 106.40L420.50 108.80L416.90 111.20" stroke="#a8a8a8" stroke-width="0.8" fill="none"/>
<path d="M400.00 112.80H408.20M404.60 110.40L408.20 112.80L404.60 115.20" stroke="#a8a8a8" stroke-width="0.8" fill="none"/>
<path d="M432.20 123.90H440.40M436.80 121.50L440.40 123.90L436.80 126.30" stroke="#a8a8a8" stroke-width="0.8" fill="none"/>
<path d="M450.60 122.00H458.80M455.20 119.60L458.80 122.00L455.20 124.40" stroke="#a8a8a8" stroke-width="0.8" fill="none"/>
<path d="M442.80 134.20H451.00M447.40 131.80L451.00 134.20L447.40 136.60" stroke="#a8a8a8" stroke-width="0.8" fill="none"/>
<path d="M452.50 139.70H460.70M457.10 137.30L460.70 139.70L457.10 142.10" stroke="#a8a8a8" stroke-width="0.8" fill="none"/>
<path d="M453.90 148.60H462.10M458.50 146.20L462.10 148.60L458.50 151.00" stroke="#a8a8a8" stroke-width="0.8" fill="none"/>
<path d="M421.60 157.20H429.80M426.20 154.80L429.80 157.20L426.20 159.60" stroke="#a8a8a8" stroke-width="0.8" fill="none"/>
<path d="M492.60 132.70H500.80M497.20 130.30L500.80 132.70L497.20 135.10" stroke="#a8a8a8" stroke-width="0.8" fill="none"/>
<path d="M346.20 117.70H354.40M350.80 115.30L354.40 117.70L350.80 120.10" stroke="#a8a8a8" stroke-width="0.8" fill="none"/>
<path d="M371.50 117.70H379.70M376.10 115.30L379.70 117.70L376.10 120.10" stroke="#a8a8a8" stroke-width="0.8" fill="none"/>
<path d="M382.60 101.30H390.80M387.20 98.90L390.80 101.30L387.20 103.70" stroke="#a8a8a8" stroke-width="0.8" fill="none"/>
<path d="M381.80 106.40H390.00M386.40 104.00L390.00 106.40L386.40 108.80" stroke="#a8a8a8" stroke-width="0.8" fill="none"/>
<path d="M394.50 110.10H402.70M399.10 107.70L402.70 110.10L399.10 112.50" stroke="#a8a8a8" stroke-width="0.8" fill="none"/>
<path d="M358.10 133.20H366.30M362.70 130.80L366.30 133.20L362.70 135.60" stroke="#a8a8a8" stroke-width="0.8" fill="none"/>
<path d="M347.20 145.90H355.40M351.80 143.50L355.40 145.90L351.80 148.30" stroke="#a8a8a8" stroke-width="0.8" fill="none"/>
<path d="M428.40 59.90H436.60M433.00 57.50L436.60 59.90L433.00 62.30" stroke="#a8a8a8" stroke-width="0.8" fill="none"/>
<path d="M418.10 68.30H426.30M422.70 65.90L426.30 68.30L422.70 70.70" stroke="#a8a8a8" stroke-width="0.8" fill="none"/>
<path d="M476.50 82.10H484.70M481.10 79.70L484.70 82.10L481.10 84.50" stroke="#a8a8a8" stroke-width="0.8" fill="none"/>
<path d="M446.40 85.10H454.60M451.00 82.70L454.60 85.10L451.00 87.50" stroke="#a8a8a8" stroke-width="0.8" fill="none"/>
<path d="M461.70 86.70H469.90M466.30 84.30L469.90 86.70L466.30 89.10" stroke="#a8a8a8" stroke-width="0.8" fill="none"/>
<path d="M406.10 86.00H414.30M410.70 83.60L414.30 86.00L410.70 88.40" stroke="#a8a8a8" stroke-width="0.8" fill="none"/>
<path d="M422.50 92.40H430.70M427.10 90.00L430.70 92.40L427.10 94.80" stroke="#a8a8a8" stroke-width="0.8" fill="none"/>
<path d="M412.00 91.10H420.20M416.60 88.70L420.20 91.10L416.60 93.50" stroke="#a8a8a8" stroke-width="0.8" fill="none"/>
<path d="M433.50 90.30H441.70M438.10 87.90L441.70 90.30L438.10 92.70" stroke="#a8a8a8" stroke-width="0.8" fill="none"/>
<path d="M453.00 94.80H461.20M457.60 92.40L461.20 94.80L457.60 97.20" stroke="#a8a8a8" stroke-width="0.8" fill="none"/>
<path d="M444.20 114.30H452.40M448.80 111.90L452.40 114.30L448.80 116.70" stroke="#a8a8a8" stroke-width="0.8" fill="none"/>
<path d="M428.20 118.80H436.40M432.80 116.40L436.40 118.80L432.80 121.20" stroke="#a8a8a8" stroke-width="0.8" fill="none"/>
<path d="M464.20 108.50H472.40M468.80 106.10L472.40 108.50L468.80 110.90" stroke="#a8a8a8" stroke-width="0.8" fill="none"/>
<path d="M390.40 37.50H398.60M395.00 35.10L398.60 37.50L395.00 39.90" stroke="#a8a8a8" stroke-width="0.8" fill="none"/>
<path d="M402.40 44.60H410.60M407.00 42.20L410.60 44.60L407.00 47.00" stroke="#a8a8a8" stroke-width="0.8" fill="none"/>
<path d="M369.80 52.70H378.00M374.40 50.30L378.00 52.70L374.40 55.10" stroke="#a8a8a8" stroke-width="0.8" fill="none"/>
<path d="M380.70 62.60H388.90M385.30 60.20L388.90 62.60L385.30 65.00" stroke="#a8a8a8" stroke-width="0.8" fill="none"/>
<path d="M393.90 62.00H402.10M398.50 59.60L402.10 62.00L398.50 64.40" stroke="#a8a8a8" stroke-width="0.8" fill="none"/>
<path d="M447.90 34.20H456.10M452.50 31.80L456.10 34.20L452.50 36.60" stroke="#a8a8a8" stroke-width="0.8" fill="none"/>
<path d="M474.50 32.70H482.70M479.10 30.30L482.70 32.70L479.10 35.10" stroke="#a8a8a8" stroke-width="0.8" fill="none"/>
<path d="M410.70 48.60H418.90M415.30 46.20L418.90 48.60L415.30 51.00" stroke="#a8a8a8" stroke-width="0.8" fill="none"/>
<path d="M467.30 45.50H475.50M471.90 43.10L475.50 45.50L471.90 47.90" stroke="#a8a8a8" stroke-width="0.8" fill="none"/>
<path d="M430.50 52.90H438.70M435.10 50.50L438.70 52.90L435.10 55.30" stroke="#a8a8a8" stroke-width="0.8" fill="none"/>
<path d="M453.10 59.10H461.30M457.70 56.70L461.30 59.10L457.70 61.50" stroke="#a8a8a8" stroke-width="0.8" fill="none"/>
<path d="M458.00 62.00H466.20M462.60 59.60L466.20 62.00L462.60 64.40" stroke="#a8a8a8" stroke-width="0.8" fill="none"/>
<path d="M484.80 61.60H493.00M489.40 59.20L493.00 61.60L489.40 64.00" stroke="#a8a8a8" stroke-width="0.8" fill="none"/>
<path d="M406.60 67.10H414.80M411.20 64.70L414.80 67.10L411.20 69.50" stroke="#a8a8a8" stroke-width="0.8" fill="none"/>
<path d="M447.70 68.80H455.90M452.30 66.40L455.90 68.80L452.30 71.20" stroke="#a8a8a8" stroke-width="0.8" fill="none"/>
<path d="M486.00 73.90H494.20M490.60 71.50L494.20 73.90L490.60 76.30" stroke="#a8a8a8" stroke-width="0.8" fill="none"/>
<path d="M422.10 76.00H430.30M426.70 73.60L430.30 76.00L426.70 78.40" stroke="#a8a8a8" stroke-width="0.8" fill="none"/>
<path d="M422.10 80.80H430.30M426.70 78.40L430.30 80.80L426.70 83.20" stroke="#a8a8a8" stroke-width="0.8" fill="none"/>
<path d="M453.10 79.00H461.30M457.70 76.60L461.30 79.00L457.70 81.40" stroke="#a8a8a8" stroke-width="0.8" fill="none"/>
<polygon points="362.60,85.30 368.00,85.30 365.30,90.10" fill="none" stroke="#8c8c8c" stroke-width="0.8"/>
<polygon points="367.10,87.30 372.50,87.30 369.80,92.10" fill="none" stroke="#8c8c8c" stroke-width="0.8"/>
<polygon points="395.90,82.70 401.30,82.70 398.60,87.50" fill="none" stroke="#8c8c8c" stroke-width="0.8"/>
<polygon points="394.60,90.60 400.00,90.60 397.30,95.40" fill="none" stroke="#8c8c8c" stroke-width="0.8"/>
<polygon points="401.80,91.60 407.20,91.60 404.50,96.40" fill="none" stroke="#8c8c8c" stroke-width="0.8"/>
<polygon points="433.90,99.50 439.30,99.50 436.60,104.30" fill="none" stroke="#8c8c8c" stroke-width="0.8"/>
<polygon points="413.60,100.80 419.00,100.80 416.30,105.60" fill="none" stroke="#8c8c8c" stroke-width="0.8"/>
<polygon points="416.30,102.00 421.70,102.00 419.00,106.80" fill="none" stroke="#8c8c8c" stroke-width="0.8"/>
<polygon points="412.30,104.90 413.27,107.47 416.01,107.59 413.87,109.31 414.59,111.96 412.30,110.45 410.01,111.96 410.73,109.31 408.59,107.59 411.33,107.47" fill="none" stroke="#8c8c8c" stroke-width="0.8"/>
<polygon points="397.30,110.80 402.70,110.80 400.00,115.60" fill="none" stroke="#8c8c8c" stroke-width="0.8"/>
<polygon points="432.20,120.00 433.17,122.57 435.91,122.69 433.77,124.41 434.49,127.06 432.20,125.55 429.91,127.06 430.63,124.41 428.49,122.69 431.23,122.57" fill="none" stroke="#8c8c8c" stroke-width="0.8"/>
<polygon points="447.90,120.00 453.30,120.00 450.60,124.80" fill="none" stroke="#8c8c8c" stroke-width="0.8"/>
<polygon points="408.60,134.90 414.00,134.90 411.30,139.70" fill="none" stroke="#8c8c8c" stroke-width="0.8"/>
<polygon points="440.10,132.20 445.50,132.20 442.80,137.00" fill="none" stroke="#8c8c8c" stroke-width="0.8"/>
<polygon points="449.80,137.70 455.20,137.70 452.50,142.50" fill="none" stroke="#8c8c8c" stroke-width="0.8"/>
<polygon points="451.20,146.60 456.60,146.60 453.90,151.40" fill="none" stroke="#8c8c8c" stroke-width="0.8"/>
<polygon points="421.60,153.30 425.50,157.20 421.60,161.10 417.70,157.20" fill="none" stroke="#8c8c8c" stroke-width="0.8"/>
<polygon points="492.60,128.80 493.57,131.37 496.31,131.49 494.17,133.21 494.89,135.86 492.60,134.35 490.31,135.86 491.03,133.21 488.89,131.49 491.63,131.37" fill="none" stroke="#8c8c8c" stroke-width="0.8"/>
<polygon points="313.60,118.40 319.00,118.40 316.30,123.20" fill="none" stroke="#8c8c8c" stroke-width="0.8"/>
<polygon points="317.30,129.10 322.70,129.10 320.00,133.90" fill="none" stroke="#8c8c8c" stroke-width="0.8"/>
<polygon points="336.70,114.30 342.10,114.30 339.40,119.10" fill="none" stroke="#8c8c8c" stroke-width="0.8"/>
<polygon points="346.20,113.80 347.17,116.37 349.91,116.49 347.77,118.21 348.49,120.86 346.20,119.35 343.91,120.86 344.63,118.21 342.49,116.49 345.23,116.37" fill="none" stroke="#8c8c8c" stroke-width="0.8"/>
<polygon points="348.60,101.90 354.00,101.90 351.30,106.70" fill="none" stroke="#8c8c8c" stroke-width="0.8"/>
<polygon points="361.00,111.60 366.40,111.60 363.70,116.40" fill="none" stroke="#8c8c8c" stroke-width="0.8"/>
<polygon points="371.50,113.80 372.47,116.37 375.21,116.49 373.07,118.21 373.79,120.86 371.50,119.35 369.21,120.86 369.93,118.21 367.79,116.49 370.53,116.37" fill="none" stroke="#8c8c8c" stroke-width="0.8"/>
<polygon points="379.90,116.10 385.30,116.10 382.60,120.90" fill="none" stroke="#8c8c8c" stroke-width="0.8"/>
<polygon points="379.90,99.30 385.30,99.30 382.60,104.10" fill="none" stroke="#8c8c8c" stroke-width="0.8"/>
<polygon points="379.10,104.40 384.50,104.40 381.80,109.20" fill="none" stroke="#8c8c8c" stroke-width="0.8"/>
<polygon points="391.80,108.10 397.20,108.10 394.50,112.90" fill="none" stroke="#8c8c8c" stroke-width="0.8"/>
<polygon points="396.40,111.60 401.80,111.60 399.10,116.40" fill="none" stroke="#8c8c8c" stroke-width="0.8"/>
<polygon points="392.90,121.90 398.30,121.90 395.60,126.70" fill="none" stroke="#8c8c8c" stroke-width="0.8"/>
<polygon points="385.70,126.60 391.10,126.60 388.40,131.40" fill="none" stroke="#8c8c8c" stroke-width="0.8"/>
<polygon points="358.10,129.30 359.07,131.87 361.81,131.99 359.67,133.71 360.39,136.36 358.10,134.85 355.81,136.36 356.53,133.71 354.39,131.99 357.13,131.87" fill="none" stroke="#8c8c8c" stroke-width="0.8"/>
<polygon points="354.80,137.90 360.20,137.90 357.50,142.70" fill="none" stroke="#8c8c8c" stroke-width="0.8"/>
<polygon points="359.90,143.10 365.30,143.10 362.60,147.90" fill="none" stroke="#8c8c8c" stroke-width="0.8"/>
<polygon points="344.50,143.90 349.90,143.90 347.20,148.70" fill="none" stroke="#8c8c8c" stroke-width="0.8"/>
<circle cx="402.80" cy="87.30" r="2.3" fill="#9a9a9a"/>
<circle cx="393.90" cy="96.30" r="2.3" fill="#9a9a9a"/>
<circle cx="425.70" cy="58.50" r="2.3" fill="#9a9a9a"/>
<circle cx="428.40" cy="59.90" r="2.3" fill="#9a9a9a"/>
<circle cx="418.10" cy="68.30" r="2.3" fill="#9a9a9a"/>
<circle cx="445.30" cy="68.30" r="2.3" fill="#9a9a9a"/>
<circle cx="475.70" cy="79.00" r="2.3" fill="#9a9a9a"/>
<circle cx="476.50" cy="82.10" r="2.3" fill="#9a9a9a"/>
<circle cx="446.40" cy="85.10" r="2.3" fill="#9a9a9a"/>
<polygon points="461.70,83.30 462.52,85.57 464.93,85.65 463.03,87.13 463.70,89.45 461.70,88.10 459.70,89.45 460.37,87.13 458.47,85.65 460.88,85.57" fill="#9a9a9a"/>
<circle cx="404.70" cy="86.90" r="2.3" fill="#9a9a9a"/>
<circle cx="406.10" cy="86.00" r="2.3" fill="#9a9a9a"/>
<circle cx="414.80" cy="86.30" r="2.3" fill="#9a9a9a"/>
<circle cx="420.30" cy="86.00" r="2.3" fill="#9a9a9a"/>
<circle cx="420.70" cy="89.70" r="2.3" fill="#9a9a9a"/>
<circle cx="422.50" cy="92.40" r="2.3" fill="#9a9a9a"/>
<circle cx="412.00" cy="91.10" r="2.3" fill="#9a9a9a"/>
<circle cx="433.50" cy="90.30" r="2.3" fill="#9a9a9a"/>
<circle cx="453.00" cy="94.80" r="2.3" fill="#9a9a9a"/>
<circle cx="411.60" cy="99.70" r="2.3" fill="#9a9a9a"/>
<circle cx="443.30" cy="116.10" r="2.3" fill="#9a9a9a"/>
<circle cx="444.20" cy="114.30" r="2.3" fill="#9a9a9a"/>
<polygon points="428.20,115.40 429.02,117.67 431.43,117.75 429.53,119.23 430.20,121.55 428.20,120.20 426.20,121.55 426.87,119.23 424.97,117.75 427.38,117.67" fill="#9a9a9a"/>
<circle cx="405.80" cy="124.30" r="2.3" fill="#9a9a9a"/>
<circle cx="464.20" cy="108.50" r="2.3" fill="#9a9a9a"/>
<circle cx="356.90" cy="105.00" r="2.3" fill="#9a9a9a"/>
<circle cx="358.50" cy="116.10" r="2.3" fill="#9a9a9a"/>
<circle cx="382.20" cy="97.80" r="2.3" fill="#9a9a9a"/>
<polygon points="390.40,33.90 391.28,36.29 393.82,36.39 391.83,37.96 392.52,40.41 390.40,39.00 388.28,40.41 388.97,37.96 386.98,36.39 389.52,36.29" fill="#111"/>
<polygon points="397.60,39.00 398.48,41.39 401.02,41.49 399.03,43.06 399.72,45.51 397.60,44.10 395.48,45.51 396.17,43.06 394.18,41.49 396.72,41.39" fill="#111"/>
<rect x="400.00" y="42.20" width="4.8" height="4.8" fill="#111"/>
<rect x="372.20" y="45.40" width="4.8" height="4.8" fill="#111"/>
<polygon points="369.80,49.10 370.68,51.49 373.22,51.59 371.23,53.16 371.92,55.61 369.80,54.20 367.68,55.61 368.37,53.16 366.38,51.59 368.92,51.49" fill="#111"/>
<rect x="390.50" y="55.00" width="4.8" height="4.8" fill="#111"/>
<rect x="378.30" y="60.20" width="4.8" height="4.8" fill="#111"/>
<polygon points="393.90,58.50 397.40,62.00 393.90,65.50 390.40,62.00" fill="#111"/>
<polygon points="447.90,30.60 448.78,32.99 451.32,33.09 449.33,34.66 450.02,37.11 447.90,35.70 445.78,37.11 446.47,34.66 444.48,33.09 447.02,32.99" fill="#111"/>
<polygon points="474.50,29.10 475.38,31.49 477.92,31.59 475.93,33.16 476.62,35.61 474.50,34.20 472.38,35.61 473.07,33.16 471.08,31.59 473.62,31.49" fill="#111"/>
<polygon points="410.70,45.00 411.58,47.39 414.12,47.49 412.13,49.06 412.82,51.51 410.70,50.10 408.58,51.51 409.27,49.06 407.28,47.49 409.82,47.39" fill="#111"/>
<rect x="464.90" y="43.10" width="4.8" height="4.8" fill="#111"/>
<polygon points="430.50,49.40 434.00,52.90 430.50,56.40 427.00,52.90" fill="#111"/>
<rect x="450.70" y="56.70" width="4.8" height="4.8" fill="#111"/>
<polygon points="458.00,58.40 458.88,60.79 461.42,60.89 459.43,62.46 460.12,64.91 458.00,63.50 455.88,64.91 456.57,62.46 454.58,60.89 457.12,60.79" fill="#111"/>
<rect x="482.40" y="59.20" width="4.8" height="4.8" fill="#111"/>
<polygon points="406.60,63.50 407.48,65.89 410.02,65.99 408.03,67.56 408.72,70.01 406.60,68.60 404.48,70.01 405.17,67.56 403.18,65.99 405.72,65.89" fill="#111"/>
<rect x="445.30" y="66.40" width="4.8" height="4.8" fill="#111"/>
<polygon points="486.00,70.30 486.88,72.69 489.42,72.79 487.43,74.36 488.12,76.81 486.00,75.40 483.88,76.81 484.57,74.36 482.58,72.79 485.12,72.69" fill="#111"/>
<polygon points="422.10,72.40 422.98,74.79 425.52,74.89 423.53,76.46 424.22,78.91 422.10,77.50 419.98,78.91 420.67,76.46 418.68,74.89 421.22,74.79" fill="#111"/>
<rect x="419.70" y="78.40" width="4.8" height="4.8" fill="#111"/>
<polygon points="453.10,75.40 453.98,77.79 456.52,77.89 454.53,79.46 455.22,81.91 453.10,80.50 450.98,81.91 451.67,79.46 449.68,77.89 452.22,77.79" fill="#111"/>
<path d="M605.20 83.20H613.40M609.80 80.80L613.40 83.20L609.80 85.60" stroke="#a8a8a8" stroke-width="0.8" fill="none"/>
<path d="M617.50 79.70H625.70M622.10 77.30L625.70 79.70L622.10 82.10" stroke="#a8a8a8" stroke-width="0.8" fill="none"/>
<path d="M711.00 94.90H719.20M715.60 92.50L719.20 94.90L715.60 97.30" stroke="#a8a8a8" stroke-width="0.8" fill="none"/>
<path d="M691.80 106.30H700.00M696.40 103.90L700.00 106.30L696.40 108.70" stroke="#a8a8a8" stroke-width="0.8" fill="none"/>
<path d="M695.90 104.00H704.10M700.50 101.60L704.10 104.00L700.50 106.40" stroke="#a8a8a8" stroke-width="0.8" fill="none"/>
<path d="M713.30 110.00H721.50M717.90 107.60L721.50 110.00L717.90 112.40" stroke="#a8a8a8" stroke-width="0.8" fill="none"/>
<path d="M671.60 121.00H679.80M676.20 118.60L679.80 121.00L676.20 123.40" stroke="#a8a8a8" stroke-width="0.8" fill="none"/>
<path d="M674.40 118.70H682.60M679.00 116.30L682.60 118.70L679.00 121.10" stroke="#a8a8a8" stroke-width="0.8" fill="none"/>
<path d="M702.30 120.00H710.50M706.90 117.60L710.50 120.00L706.90 122.40" stroke="#a8a8a8" stroke-width="0.8" fill="none"/>
<path d="M709.00 123.30H717.20M713.60 120.90L717.20 123.30L713.60 125.70" stroke="#a8a8a8" stroke-width="0.8" fill="none"/>
<path d="M752.00 116.30H760.20M756.60 113.90L760.20 116.30L756.60 118.70" stroke="#a8a8a8" stroke-width="0.8" fill="none"/>
<path d="M676.90 152.70H685.10M681.50 150.30L685.10 152.70L681.50 155.10" stroke="#a8a8a8" stroke-width="0.8" fill="none"/>
<path d="M630.90 123.90H639.10M635.50 121.50L639.10 123.90L635.50 126.30" stroke="#a8a8a8" stroke-width="0.8" fill="none"/>
<path d="M640.80 142.00H649.00M645.40 139.60L649.00 142.00L645.40 144.40" stroke="#a8a8a8" stroke-width="0.8" fill="none"/>
<path d="M606.60 159.90H614.80M611.20 157.50L614.80 159.90L611.20 162.30" stroke="#a8a8a8" stroke-width="0.8" fill="none"/>
<path d="M628.80 158.90H637.00M633.40 156.50L637.00 158.90L633.40 161.30" stroke="#a8a8a8" stroke-width="0.8" fill="none"/>
<path d="M659.30 163.00H667.50M663.90 160.60L667.50 163.00L663.90 165.40" stroke="#a8a8a8" stroke-width="0.8" fill="none"/>
<path d="M654.60 171.20H662.80M659.20 168.80L662.80 171.20L659.20 173.60" stroke="#a8a8a8" stroke-width="0.8" fill="none"/>
<path d="M629.30 82.10H637.50M633.90 79.70L637.50 82.10L633.90 84.50" stroke="#a8a8a8" stroke-width="0.8" fill="none"/>
<path d="M653.30 96.40H661.50M657.90 94.00L661.50 96.40L657.90 98.80" stroke="#a8a8a8" stroke-width="0.8" fill="none"/>
<path d="M665.20 86.10H673.40M669.80 83.70L673.40 86.10L669.80 88.50" stroke="#a8a8a8" stroke-width="0.8" fill="none"/>
<path d="M712.50 84.80H720.70M717.10 82.40L720.70 84.80L717.10 87.20" stroke="#a8a8a8" stroke-width="0.8" fill="none"/>
<path d="M681.20 92.10H689.40M685.80 89.70L689.40 92.10L685.80 94.50" stroke="#a8a8a8" stroke-width="0.8" fill="none"/>
<path d="M704.90 88.90H713.10M709.50 86.50L713.10 88.90L709.50 91.30" stroke="#a8a8a8" stroke-width="0.8" fill="none"/>
<path d="M707.30 101.30H715.50M711.90 98.90L715.50 101.30L711.90 103.70" stroke="#a8a8a8" stroke-width="0.8" fill="none"/>
<path d="M723.40 101.30H731.60M728.00 98.90L731.60 101.30L728.00 103.70" stroke="#a8a8a8" stroke-width="0.8" fill="none"/>
<path d="M735.10 97.80H743.30M739.70 95.40L743.30 97.80L739.70 100.20" stroke="#a8a8a8" stroke-width="0.8" fill="none"/>
<path d="M687.60 98.50H695.80M692.20 96.10L695.80 98.50L692.20 100.90" stroke="#a8a8a8" stroke-width="0.8" fill="none"/>
<path d="M677.10 102.70H685.30M681.70 100.30L685.30 102.70L681.70 105.10" stroke="#a8a8a8" stroke-width="0.8" fill="none"/>
<path d="M701.80 106.80H710.00M706.40 104.40L710.00 106.80L706.40 109.20" stroke="#a8a8a8" stroke-width="0.8" fill="none"/>
<path d="M682.10 110.00H690.30M686.70 107.60L690.30 110.00L686.70 112.40" stroke="#a8a8a8" stroke-width="0.8" fill="none"/>
<path d="M693.10 112.70H701.30M697.70 110.30L701.30 112.70L697.70 115.10" stroke="#a8a8a8" stroke-width="0.8" fill="none"/>
<path d="M680.30 115.90H688.50M684.90 113.50L688.50 115.90L684.90 118.30" stroke="#a8a8a8" stroke-width="0.8" fill="none"/>
<path d="M735.70 115.70H743.90M740.30 113.30L743.90 115.70L740.30 118.10" stroke="#a8a8a8" stroke-width="0.8" fill="none"/>
<path d="M682.20 137.30H690.40M686.80 134.90L690.40 137.30L686.80 139.70" stroke="#a8a8a8" stroke-width="0.8" fill="none"/>
<path d="M687.60 98.40H695.80M692.20 96.00L695.80 98.40L692.20 100.80" stroke="#a8a8a8" stroke-width="0.8" fill="none"/>
<path d="M677.10 102.50H685.30M681.70 100.10L685.30 102.50L681.70 104.90" stroke="#a8a8a8" stroke-width="0.8" fill="none"/>
<path d="M639.70 105.40H647.90M644.30 103.00L647.90 105.40L644.30 107.80" stroke="#a8a8a8" stroke-width="0.8" fill="none"/>
<path d="M649.40 17.90H657.60M654.00 15.50L657.60 17.90L654.00 20.30" stroke="#a8a8a8" stroke-width="0.8" fill="none"/>
<path d="M661.50 19.60H669.70M666.10 17.20L669.70 19.60L666.10 22.00" stroke="#a8a8a8" stroke-width="0.8" fill="none"/>
<path d="M657.00 57.90H665.20M661.60 55.50L665.20 57.90L661.60 60.30" stroke="#a8a8a8" stroke-width="0.8" fill="none"/>
<path d="M733.50 9.10H741.70M738.10 6.70L741.70 9.10L738.10 11.50" stroke="#a8a8a8" stroke-width="0.8" fill="none"/>
<path d="M669.90 27.00H678.10M674.50 24.60L678.10 27.00L674.50 29.40" stroke="#a8a8a8" stroke-width="0.8" fill="none"/>
<path d="M712.90 23.90H721.10M717.50 21.50L721.10 23.90L717.50 26.30" stroke="#a8a8a8" stroke-width="0.8" fill="none"/>
<path d="M707.30 30.10H715.50M711.90 27.70L715.50 30.10L711.90 32.50" stroke="#a8a8a8" stroke-width="0.8" fill="none"/>
<path d="M726.50 36.00H734.70M731.10 33.60L734.70 36.00L731.10 38.40" stroke="#a8a8a8" stroke-width="0.8" fill="none"/>
<path d="M744.00 39.30H752.20M748.60 36.90L752.20 39.30L748.60 41.70" stroke="#a8a8a8" stroke-width="0.8" fill="none"/>
<path d="M665.80 47.60H674.00M670.40 45.20L674.00 47.60L670.40 50.00" stroke="#a8a8a8" stroke-width="0.8" fill="none"/>
<path d="M674.40 49.60H682.60M679.00 47.20L682.60 49.60L679.00 52.00" stroke="#a8a8a8" stroke-width="0.8" fill="none"/>
<path d="M717.20 49.60H725.40M721.80 47.20L725.40 49.60L721.80 52.00" stroke="#a8a8a8" stroke-width="0.8" fill="none"/>
<path d="M745.00 59.50H753.20M749.60 57.10L753.20 59.50L749.60 61.90" stroke="#a8a8a8" stroke-width="0.8" fill="none"/>
<path d="M712.10 66.30H720.30M716.70 63.90L720.30 66.30L716.70 68.70" stroke="#a8a8a8" stroke-width="0.8" fill="none"/>
<path d="M721.10 66.70H729.30M725.70 64.30L729.30 66.70L725.70 69.10" stroke="#a8a8a8" stroke-width="0.8" fill="none"/>
<path d="M689.90 77.20H698.10M694.50 74.80L698.10 77.20L694.50 79.60" stroke="#a8a8a8" stroke-width="0.8" fill="none"/>
<path d="M671.30 81.00H679.50M675.90 78.60L679.50 81.00L675.90 83.40" stroke="#a8a8a8" stroke-width="0.8" fill="none"/>
<polygon points="605.20,79.30 606.17,81.87 608.91,81.99 606.77,83.71 607.49,86.36 605.20,84.85 602.91,86.36 603.63,83.71 601.49,81.99 604.23,81.87" fill="none" stroke="#8c8c8c" stroke-width="0.8"/>
<polygon points="617.50,75.80 618.47,78.37 621.21,78.49 619.07,80.21 619.79,82.86 617.50,81.35 615.21,82.86 615.93,80.21 613.79,78.49 616.53,78.37" fill="none" stroke="#8c8c8c" stroke-width="0.8"/>
<polygon points="655.40,96.60 660.80,96.60 658.10,101.40" fill="none" stroke="#8c8c8c" stroke-width="0.8"/>
<polygon points="708.30,92.90 713.70,92.90 711.00,97.70" fill="none" stroke="#8c8c8c" stroke-width="0.8"/>
<polygon points="691.80,102.40 692.77,104.97 695.51,105.09 693.37,106.81 694.09,109.46 691.80,107.95 689.51,109.46 690.23,106.81 688.09,105.09 690.83,104.97" fill="none" stroke="#8c8c8c" stroke-width="0.8"/>
<polygon points="693.20,102.00 698.60,102.00 695.90,106.80" fill="none" stroke="#8c8c8c" stroke-width="0.8"/>
<polygon points="710.60,108.00 716.00,108.00 713.30,112.80" fill="none" stroke="#8c8c8c" stroke-width="0.8"/>
<polygon points="667.10,111.20 672.50,111.20 669.80,116.00" fill="none" stroke="#8c8c8c" stroke-width="0.8"/>
<polygon points="671.60,117.10 672.57,119.67 675.31,119.79 673.17,121.51 673.89,124.16 671.60,122.65 669.31,124.16 670.03,121.51 667.89,119.79 670.63,119.67" fill="none" stroke="#8c8c8c" stroke-width="0.8"/>
<polygon points="671.70,116.70 677.10,116.70 674.40,121.50" fill="none" stroke="#8c8c8c" stroke-width="0.8"/>
<polygon points="699.60,118.00 705.00,118.00 702.30,122.80" fill="none" stroke="#8c8c8c" stroke-width="0.8"/>
<polygon points="702.30,120.50 707.70,120.50 705.00,125.30" fill="none" stroke="#8c8c8c" stroke-width="0.8"/>
<polygon points="706.30,121.30 711.70,121.30 709.00,126.10" fill="none" stroke="#8c8c8c" stroke-width="0.8"/>
<polygon points="752.00,112.40 752.97,114.97 755.71,115.09 753.57,116.81 754.29,119.46 752.00,117.95 749.71,119.46 750.43,116.81 748.29,115.09 751.03,114.97" fill="none" stroke="#8c8c8c" stroke-width="0.8"/>
<polygon points="669.20,129.10 674.60,129.10 671.90,133.90" fill="none" stroke="#8c8c8c" stroke-width="0.8"/>
<polygon points="674.20,150.70 679.60,150.70 676.90,155.50" fill="none" stroke="#8c8c8c" stroke-width="0.8"/>
<polygon points="652.30,108.90 657.70,108.90 655.00,113.70" fill="none" stroke="#8c8c8c" stroke-width="0.8"/>
<polygon points="653.90,112.60 659.30,112.60 656.60,117.40" fill="none" stroke="#8c8c8c" stroke-width="0.8"/>
<polygon points="630.90,120.00 631.87,122.57 634.61,122.69 632.47,124.41 633.19,127.06 630.90,125.55 628.61,127.06 629.33,124.41 627.19,122.69 629.93,122.57" fill="none" stroke="#8c8c8c" stroke-width="0.8"/>
<polygon points="596.30,125.60 601.70,125.60 599.00,130.40" fill="none" stroke="#8c8c8c" stroke-width="0.8"/>
<polygon points="622.00,127.00 627.40,127.00 624.70,131.80" fill="none" stroke="#8c8c8c" stroke-width="0.8"/>
<polygon points="620.40,130.10 625.80,130.10 623.10,134.90" fill="none" stroke="#8c8c8c" stroke-width="0.8"/>
<polygon points="638.10,140.00 643.50,140.00 640.80,144.80" fill="none" stroke="#8c8c8c" stroke-width="0.8"/>
<polygon points="639.10,145.10 644.50,145.10 641.80,149.90" fill="none" stroke="#8c8c8c" stroke-width="0.8"/>
<polygon points="603.90,157.90 609.30,157.90 606.60,162.70" fill="none" stroke="#8c8c8c" stroke-width="0.8"/>
<polygon points="607.60,161.00 613.00,161.00 610.30,165.80" fill="none" stroke="#8c8c8c" stroke-width="0.8"/>
<polygon points="626.10,156.90 631.50,156.90 628.80,161.70" fill="none" stroke="#8c8c8c" stroke-width="0.8"/>
<polygon points="645.10,155.40 650.50,155.40 647.80,160.20" fill="none" stroke="#8c8c8c" stroke-width="0.8"/>
<polygon points="656.60,161.00 662.00,161.00 659.30,165.80" fill="none" stroke="#8c8c8c" stroke-width="0.8"/>
<polygon points="651.90,169.20 657.30,169.20 654.60,174.00" fill="none" stroke="#8c8c8c" stroke-width="0.8"/>
<polygon points="576.80,175.40 582.20,175.40 579.50,180.20" fill="none" stroke="#8c8c8c" stroke-width="0.8"/>
<polygon points="614.20,177.40 619.60,177.40 616.90,182.20" fill="none" stroke="#8c8c8c" stroke-width="0.8"/>
<polygon points="618.90,175.40 624.30,175.40 621.60,180.20" fill="none" stroke="#8c8c8c" stroke-width="0.8"/>
<polygon points="629.30,78.70 630.12,80.97 632.53,81.05 630.63,82.53 631.30,84.85 629.30,83.50 627.30,84.85 627.97,82.53 626.07,81.05 628.48,80.97" fill="#9a9a9a"/>
<circle cx="653.30" cy="82.90" r="2.3" fill="#9a9a9a"/>
<circle cx="653.30" cy="87.00" r="2.3" fill="#9a9a9a"/>
<polygon points="653.30,92.80 656.90,96.40 653.30,100.00 649.70,96.40" fill="#9a9a9a"/>
<circle cx="663.10" cy="59.90" r="2.3" fill="#9a9a9a"/>
<polygon points="695.50,74.10 696.32,76.37 698.73,76.45 696.83,77.93 697.50,80.25 695.50,78.90 693.50,80.25 694.17,77.93 692.27,76.45 694.68,76.37" fill="#9a9a9a"/>
<circle cx="665.20" cy="86.10" r="2.3" fill="#9a9a9a"/>
<circle cx="712.50" cy="84.80" r="2.3" fill="#9a9a9a"/>
<polygon points="681.20,88.70 682.02,90.97 684.43,91.05 682.53,92.53 683.20,94.85 681.20,93.50 679.20,94.85 679.87,92.53 677.97,91.05 680.38,90.97" fill="#9a9a9a"/>
<circle cx="670.70" cy="94.10" r="2.3" fill="#9a9a9a"/>
<circle cx="704.90" cy="88.90" r="2.3" fill="#9a9a9a"/>
<circle cx="703.20" cy="94.20" r="2.3" fill="#9a9a9a"/>
<circle cx="706.00" cy="98.10" r="2.3" fill="#9a9a9a"/>
<circle cx="707.30" cy="101.30" r="2.3" fill="#9a9a9a"/>
<circle cx="723.40" cy="101.30" r="2.3" fill="#9a9a9a"/>
<circle cx="735.10" cy="97.80" r="2.3" fill="#9a9a9a"/>
<polygon points="687.60,95.10 688.42,97.37 690.83,97.45 688.93,98.93 689.60,101.25 687.60,99.90 685.60,101.25 686.27,98.93 684.37,97.45 686.78,97.37" fill="#9a9a9a"/>
<circle cx="677.10" cy="102.70" r="2.3" fill="#9a9a9a"/>
<polygon points="684.90,99.30 685.72,101.57 688.13,101.65 686.23,103.13 686.90,105.45 684.90,104.10 682.90,105.45 683.57,103.13 681.67,101.65 684.08,101.57" fill="#9a9a9a"/>
<circle cx="701.80" cy="106.80" r="2.3" fill="#9a9a9a"/>
<circle cx="682.10" cy="110.00" r="2.3" fill="#9a9a9a"/>
<circle cx="693.10" cy="112.70" r="2.3" fill="#9a9a9a"/>
<circle cx="680.30" cy="115.90" r="2.3" fill="#9a9a9a"/>
<circle cx="735.70" cy="115.70" r="2.3" fill="#9a9a9a"/>
<circle cx="682.20" cy="137.30" r="2.3" fill="#9a9a9a"/>
<circle cx="665.10" cy="143.00" r="2.3" fill="#9a9a9a"/>
<polygon points="687.60,95.00 688.42,97.27 690.83,97.35 688.93,98.83 689.60,101.15 687.60,99.80 685.60,101.15 686.27,98.83 684.37,97.35 686.78,97.27" fill="#9a9a9a"/>
<circle cx="677.10" cy="102.50" r="2.3" fill="#9a9a9a"/>
<circle cx="639.70" cy="105.40" r="2.3" fill="#9a9a9a"/>
<circle cx="641.60" cy="117.10" r="2.3" fill="#9a9a9a"/>
<circle cx="615.90" cy="131.50" r="2.3" fill="#9a9a9a"/>
<circle cx="617.50" cy="139.30" r="2.3" fill="#9a9a9a"/>
<polygon points="649.40,14.30 650.28,16.69 652.82,16.79 650.83,18.36 651.52,20.81 649.40,19.40 647.28,20.81 647.97,18.36 645.98,16.79 648.52,16.69" fill="#111"/>
<rect x="659.10" y="17.20" width="4.8" height="4.8" fill="#111"/>
<rect x="649.70" y="49.50" width="4.8" height="4.8" fill="#111"/>
<polygon points="657.00,54.30 657.88,56.69 660.42,56.79 658.43,58.36 659.12,60.81 657.00,59.40 654.88,60.81 655.57,58.36 653.58,56.79 656.12,56.69" fill="#111"/>
<rect x="631.60" y="72.10" width="4.8" height="4.8" fill="#111"/>
<polygon points="733.50,5.50 734.38,7.89 736.92,7.99 734.93,9.56 735.62,12.01 733.50,10.60 731.38,12.01 732.07,9.56 730.08,7.99 732.62,7.89" fill="#111"/>
<polygon points="669.90,23.40 670.78,25.79 673.32,25.89 671.33,27.46 672.02,29.91 669.90,28.50 667.78,29.91 668.47,27.46 666.48,25.89 669.02,25.79" fill="#111"/>
<rect x="710.50" y="21.50" width="4.8" height="4.8" fill="#111"/>
<polygon points="707.30,26.50 708.18,28.89 710.72,28.99 708.73,30.56 709.42,33.01 707.30,31.60 705.18,33.01 705.87,30.56 703.88,28.99 706.42,28.89" fill="#111"/>
<rect x="724.10" y="33.60" width="4.8" height="4.8" fill="#111"/>
<rect x="741.60" y="36.90" width="4.8" height="4.8" fill="#111"/>
<polygon points="665.80,44.00 666.68,46.39 669.22,46.49 667.23,48.06 667.92,50.51 665.80,49.10 663.68,50.51 664.37,48.06 662.38,46.49 664.92,46.39" fill="#111"/>
<rect x="672.00" y="47.20" width="4.8" height="4.8" fill="#111"/>
<polygon points="717.20,46.00 718.08,48.39 720.62,48.49 718.63,50.06 719.32,52.51 717.20,51.10 715.08,52.51 715.77,50.06 713.78,48.49 716.32,48.39" fill="#111"/>
<rect x="677.10" y="60.20" width="4.8" height="4.8" fill="#111"/>
<polygon points="745.00,55.90 745.88,58.29 748.42,58.39 746.43,59.96 747.12,62.41 745.00,61.00 742.88,62.41 743.57,59.96 741.58,58.39 744.12,58.29" fill="#111"/>
<polygon points="712.10,62.70 712.98,65.09 715.52,65.19 713.53,66.76 714.22,69.21 712.10,67.80 709.98,69.21 710.67,66.76 708.68,65.19 711.22,65.09" fill="#111"/>
<polygon points="721.10,63.10 721.98,65.49 724.52,65.59 722.53,67.16 723.22,69.61 721.10,68.20 718.98,69.61 719.67,67.16 717.68,65.59 720.22,65.49" fill="#111"/>
<polygon points="689.90,73.70 693.40,77.20 689.90,80.70 686.40,77.20" fill="#111"/>
<rect x="668.90" y="78.60" width="4.8" height="4.8" fill="#111"/>
<path d="M139.10 317.80H130.90M134.50 315.40L130.90 317.80L134.50 320.20" stroke="#a8a8a8" stroke-width="0.8" fill="none"/>
<path d="M232.60 316.30H224.40M228.00 313.90L224.40 316.30L228.00 318.70" stroke="#a8a8a8" stroke-width="0.8" fill="none"/>
<path d="M101.60 335.50H93.40M97.00 333.10L93.40 335.50L97.00 337.90" stroke="#a8a8a8" stroke-width="0.8" fill="none"/>
<path d="M91.30 344.70H83.10M86.70 342.30L83.10 344.70L86.70 347.10" stroke="#a8a8a8" stroke-width="0.8" fill="none"/>
<path d="M115.00 340.60H106.80M110.40 338.20L106.80 340.60L110.40 343.00" stroke="#a8a8a8" stroke-width="0.8" fill="none"/>
<path d="M106.80 352.60H98.60M102.20 350.20L98.60 352.60L102.20 355.00" stroke="#a8a8a8" stroke-width="0.8" fill="none"/>
<path d="M103.10 357.10H94.90M98.50 354.70L94.90 357.10L98.50 359.50" stroke="#a8a8a8" stroke-width="0.8" fill="none"/>
<path d="M55.30 367.80H47.10M50.70 365.40L47.10 367.80L50.70 370.20" stroke="#a8a8a8" stroke-width="0.8" fill="none"/>
<path d="M134.50 319.00H126.30M129.90 316.60L126.30 319.00L129.90 321.40" stroke="#a8a8a8" stroke-width="0.8" fill="none"/>
<path d="M139.70 339.60H131.50M135.10 337.20L131.50 339.60L135.10 342.00" stroke="#a8a8a8" stroke-width="0.8" fill="none"/>
<path d="M140.70 346.40H132.50M136.10 344.00L132.50 346.40L136.10 348.80" stroke="#a8a8a8" stroke-width="0.8" fill="none"/>
<path d="M170.90 325.80H162.70M166.30 323.40L162.70 325.80L166.30 328.20" stroke="#a8a8a8" stroke-width="0.8" fill="none"/>
<path d="M199.30 329.30H191.10M194.70 326.90L191.10 329.30L194.70 331.70" stroke="#a8a8a8" stroke-width="0.8" fill="none"/>
<path d="M179.10 336.90H170.90M174.50 334.50L170.90 336.90L174.50 339.30" stroke="#a8a8a8" stroke-width="0.8" fill="none"/>
<path d="M147.20 338.60H139.00M142.60 336.20L139.00 338.60L142.60 341.00" stroke="#a8a8a8" stroke-width="0.8" fill="none"/>
<path d="M142.10 339.60H133.90M137.50 337.20L133.90 339.60L137.50 342.00" stroke="#a8a8a8" stroke-width="0.8" fill="none"/>
<path d="M217.20 344.30H209.00M212.60 341.90L209.00 344.30L212.60 346.70" stroke="#a8a8a8" stroke-width="0.8" fill="none"/>
<path d="M149.30 352.60H141.10M144.70 350.20L141.10 352.60L144.70 355.00" stroke="#a8a8a8" stroke-width="0.8" fill="none"/>
<path d="M74.50 291.20H66.30M69.90 288.80L66.30 291.20L69.90 293.60" stroke="#a8a8a8" stroke-width="0.8" fill="none"/>
<path d="M135.60 304.00H127.40M131.00 301.60L127.40 304.00L131.00 306.40" stroke="#a8a8a8" stroke-width="0.8" fill="none"/>
<path d="M122.20 307.10H114.00M117.60 304.70L114.00 307.10L117.60 309.50" stroke="#a8a8a8" stroke-width="0.8" fill="none"/>
<path d="M103.70 311.20H95.50M99.10 308.80L95.50 311.20L99.10 313.60" stroke="#a8a8a8" stroke-width="0.8" fill="none"/>
<path d="M140.70 311.20H132.50M136.10 308.80L132.50 311.20L136.10 313.60" stroke="#a8a8a8" stroke-width="0.8" fill="none"/>
<path d="M65.60 314.30H57.40M61.00 311.90L57.40 314.30L61.00 316.70" stroke="#a8a8a8" stroke-width="0.8" fill="none"/>
<path d="M121.20 314.90H113.00M116.60 312.50L113.00 314.90L116.60 317.30" stroke="#a8a8a8" stroke-width="0.8" fill="none"/>
<path d="M102.60 321.10H94.40M98.00 318.70L94.40 321.10L98.00 323.50" stroke="#a8a8a8" stroke-width="0.8" fill="none"/>
<path d="M84.10 326.20H75.90M79.50 323.80L75.90 326.20L79.50 328.60" stroke="#a8a8a8" stroke-width="0.8" fill="none"/>
<path d="M120.50 323.80H112.30M115.90 321.40L112.30 323.80L115.90 326.20" stroke="#a8a8a8" stroke-width="0.8" fill="none"/>
<path d="M127.30 329.90H119.10M122.70 327.50L119.10 329.90L122.70 332.30" stroke="#a8a8a8" stroke-width="0.8" fill="none"/>
<path d="M154.40 332.00H146.20M149.80 329.60L146.20 332.00L149.80 334.40" stroke="#a8a8a8" stroke-width="0.8" fill="none"/>
<path d="M161.50 336.50H153.30M156.90 334.10L153.30 336.50L156.90 338.90" stroke="#a8a8a8" stroke-width="0.8" fill="none"/>
<path d="M80.00 240.60H71.80M75.40 238.20L71.80 240.60L75.40 243.00" stroke="#a8a8a8" stroke-width="0.8" fill="none"/>
<path d="M116.40 243.30H108.20M111.80 240.90L108.20 243.30L111.80 245.70" stroke="#a8a8a8" stroke-width="0.8" fill="none"/>
<path d="M67.00 267.40H58.80M62.40 265.00L58.80 267.40L62.40 269.80" stroke="#a8a8a8" stroke-width="0.8" fill="none"/>
<path d="M107.80 269.00H99.60M103.20 266.60L99.60 269.00L103.20 271.40" stroke="#a8a8a8" stroke-width="0.8" fill="none"/>
<path d="M60.00 276.20H51.80M55.40 273.80L51.80 276.20L55.40 278.60" stroke="#a8a8a8" stroke-width="0.8" fill="none"/>
<path d="M75.50 276.80H67.30M70.90 274.40L67.30 276.80L70.90 279.20" stroke="#a8a8a8" stroke-width="0.8" fill="none"/>
<path d="M116.60 273.70H108.40M112.00 271.30L108.40 273.70L112.00 276.10" stroke="#a8a8a8" stroke-width="0.8" fill="none"/>
<path d="M93.40 284.00H85.20M88.80 281.60L85.20 284.00L88.80 286.40" stroke="#a8a8a8" stroke-width="0.8" fill="none"/>
<path d="M76.90 286.90H68.70M72.30 284.50L68.70 286.90L72.30 289.30" stroke="#a8a8a8" stroke-width="0.8" fill="none"/>
<path d="M62.50 293.10H54.30M57.90 290.70L54.30 293.10L57.90 295.50" stroke="#a8a8a8" stroke-width="0.8" fill="none"/>
<path d="M143.20 283.40H135.00M138.60 281.00L135.00 283.40L138.60 285.80" stroke="#a8a8a8" stroke-width="0.8" fill="none"/>
<path d="M111.50 305.00H103.30M106.90 302.60L103.30 305.00L106.90 307.40" stroke="#a8a8a8" stroke-width="0.8" fill="none"/>
<path d="M175.40 249.00H167.20M170.80 246.60L167.20 249.00L170.80 251.40" stroke="#a8a8a8" stroke-width="0.8" fill="none"/>
<path d="M146.60 260.40H138.40M142.00 258.00L138.40 260.40L142.00 262.80" stroke="#a8a8a8" stroke-width="0.8" fill="none"/>
<path d="M157.50 271.70H149.30M152.90 269.30L149.30 271.70L152.90 274.10" stroke="#a8a8a8" stroke-width="0.8" fill="none"/>
<path d="M204.80 276.80H196.60M200.20 274.40L196.60 276.80L200.20 279.20" stroke="#a8a8a8" stroke-width="0.8" fill="none"/>
<path d="M155.40 293.10H147.20M150.80 290.70L147.20 293.10L150.80 295.50" stroke="#a8a8a8" stroke-width="0.8" fill="none"/>
<path d="M164.70 293.70H156.50M160.10 291.30L156.50 293.70L160.10 296.10" stroke="#a8a8a8" stroke-width="0.8" fill="none"/>
<path d="M184.20 296.80H176.00M179.60 294.40L176.00 296.80L179.60 299.20" stroke="#a8a8a8" stroke-width="0.8" fill="none"/>
<path d="M194.50 304.00H186.30M189.90 301.60L186.30 304.00L189.90 306.40" stroke="#a8a8a8" stroke-width="0.8" fill="none"/>
<polygon points="136.40,315.80 141.80,315.80 139.10,320.60" fill="none" stroke="#8c8c8c" stroke-width="0.8"/>
<polygon points="158.90,312.00 164.30,312.00 161.60,316.80" fill="none" stroke="#8c8c8c" stroke-width="0.8"/>
<polygon points="158.50,315.80 163.90,315.80 161.20,320.60" fill="none" stroke="#8c8c8c" stroke-width="0.8"/>
<polygon points="174.30,318.40 179.70,318.40 177.00,323.20" fill="none" stroke="#8c8c8c" stroke-width="0.8"/>
<polygon points="201.50,314.30 206.90,314.30 204.20,319.10" fill="none" stroke="#8c8c8c" stroke-width="0.8"/>
<polygon points="229.90,314.30 235.30,314.30 232.60,319.10" fill="none" stroke="#8c8c8c" stroke-width="0.8"/>
<polygon points="48.50,320.90 49.47,323.47 52.21,323.59 50.07,325.31 50.79,327.96 48.50,326.45 46.21,327.96 46.93,325.31 44.79,323.59 47.53,323.47" fill="none" stroke="#8c8c8c" stroke-width="0.8"/>
<polygon points="98.90,333.50 104.30,333.50 101.60,338.30" fill="none" stroke="#8c8c8c" stroke-width="0.8"/>
<polygon points="101.00,335.50 106.40,335.50 103.70,340.30" fill="none" stroke="#8c8c8c" stroke-width="0.8"/>
<polygon points="88.60,342.70 94.00,342.70 91.30,347.50" fill="none" stroke="#8c8c8c" stroke-width="0.8"/>
<polygon points="115.00,336.70 115.97,339.27 118.71,339.39 116.57,341.11 117.29,343.76 115.00,342.25 112.71,343.76 113.43,341.11 111.29,339.39 114.03,339.27" fill="none" stroke="#8c8c8c" stroke-width="0.8"/>
<polygon points="121.20,336.70 122.17,339.27 124.91,339.39 122.77,341.11 123.49,343.76 121.20,342.25 118.91,343.76 119.63,341.11 117.49,339.39 120.23,339.27" fill="none" stroke="#8c8c8c" stroke-width="0.8"/>
<polygon points="113.30,344.80 118.70,344.80 116.00,349.60" fill="none" stroke="#8c8c8c" stroke-width="0.8"/>
<polygon points="104.10,350.60 109.50,350.60 106.80,355.40" fill="none" stroke="#8c8c8c" stroke-width="0.8"/>
<polygon points="100.40,355.10 105.80,355.10 103.10,359.90" fill="none" stroke="#8c8c8c" stroke-width="0.8"/>
<polygon points="55.30,363.90 59.20,367.80 55.30,371.70 51.40,367.80" fill="none" stroke="#8c8c8c" stroke-width="0.8"/>
<polygon points="131.80,317.00 137.20,317.00 134.50,321.80" fill="none" stroke="#8c8c8c" stroke-width="0.8"/>
<polygon points="137.00,337.60 142.40,337.60 139.70,342.40" fill="none" stroke="#8c8c8c" stroke-width="0.8"/>
<polygon points="138.00,344.40 143.40,344.40 140.70,349.20" fill="none" stroke="#8c8c8c" stroke-width="0.8"/>
<polygon points="134.90,346.50 140.30,346.50 137.60,351.30" fill="none" stroke="#8c8c8c" stroke-width="0.8"/>
<polygon points="168.20,323.80 173.60,323.80 170.90,328.60" fill="none" stroke="#8c8c8c" stroke-width="0.8"/>
<polygon points="154.80,326.70 160.20,326.70 157.50,331.50" fill="none" stroke="#8c8c8c" stroke-width="0.8"/>
<polygon points="199.30,325.40 200.27,327.97 203.01,328.09 200.87,329.81 201.59,332.46 199.30,330.95 197.01,332.46 197.73,329.81 195.59,328.09 198.33,327.97" fill="none" stroke="#8c8c8c" stroke-width="0.8"/>
<polygon points="191.80,331.40 197.20,331.40 194.50,336.20" fill="none" stroke="#8c8c8c" stroke-width="0.8"/>
<polygon points="176.40,334.90 181.80,334.90 179.10,339.70" fill="none" stroke="#8c8c8c" stroke-width="0.8"/>
<polygon points="144.50,336.60 149.90,336.60 147.20,341.40" fill="none" stroke="#8c8c8c" stroke-width="0.8"/>
<polygon points="139.40,337.60 144.80,337.60 142.10,342.40" fill="none" stroke="#8c8c8c" stroke-width="0.8"/>
<polygon points="219.20,335.70 220.17,338.27 222.91,338.39 220.77,340.11 221.49,342.76 219.20,341.25 216.91,342.76 217.63,340.11 215.49,338.39 218.23,338.27" fill="none" stroke="#8c8c8c" stroke-width="0.8"/>
<polygon points="217.20,340.40 218.17,342.97 220.91,343.09 218.77,344.81 219.49,347.46 217.20,345.95 214.91,347.46 215.63,344.81 213.49,343.09 216.23,342.97" fill="none" stroke="#8c8c8c" stroke-width="0.8"/>
<polygon points="174.70,346.50 180.10,346.50 177.40,351.30" fill="none" stroke="#8c8c8c" stroke-width="0.8"/>
<polygon points="181.50,345.40 186.90,345.40 184.20,350.20" fill="none" stroke="#8c8c8c" stroke-width="0.8"/>
<polygon points="151.30,347.90 156.70,347.90 154.00,352.70" fill="none" stroke="#8c8c8c" stroke-width="0.8"/>
<polygon points="149.30,348.70 150.27,351.27 153.01,351.39 150.87,353.11 151.59,355.76 149.30,354.25 147.01,355.76 147.73,353.11 145.59,351.39 148.33,351.27" fill="none" stroke="#8c8c8c" stroke-width="0.8"/>
<polygon points="168.60,353.00 174.00,353.00 171.30,357.80" fill="none" stroke="#8c8c8c" stroke-width="0.8"/>
<polygon points="184.60,364.00 190.00,364.00 187.30,368.80" fill="none" stroke="#8c8c8c" stroke-width="0.8"/>
<polygon points="215.50,363.30 220.90,363.30 218.20,368.10" fill="none" stroke="#8c8c8c" stroke-width="0.8"/>
<polygon points="178.00,375.70 183.40,375.70 180.70,380.50" fill="none" stroke="#8c8c8c" stroke-width="0.8"/>
<circle cx="74.50" cy="291.20" r="2.3" fill="#9a9a9a"/>
<polygon points="135.60,300.60 136.42,302.87 138.83,302.95 136.93,304.43 137.60,306.75 135.60,305.40 133.60,306.75 134.27,304.43 132.37,302.95 134.78,302.87" fill="#9a9a9a"/>
<circle cx="122.20" cy="307.10" r="2.3" fill="#9a9a9a"/>
<circle cx="105.70" cy="310.20" r="2.3" fill="#9a9a9a"/>
<circle cx="103.70" cy="311.20" r="2.3" fill="#9a9a9a"/>
<circle cx="140.70" cy="311.20" r="2.3" fill="#9a9a9a"/>
<circle cx="65.60" cy="314.30" r="2.3" fill="#9a9a9a"/>
<circle cx="121.20" cy="314.90" r="2.3" fill="#9a9a9a"/>
<circle cx="134.50" cy="318.40" r="2.3" fill="#9a9a9a"/>
<circle cx="102.60" cy="321.10" r="2.3" fill="#9a9a9a"/>
<circle cx="108.80" cy="321.10" r="2.3" fill="#9a9a9a"/>
<circle cx="114.00" cy="319.60" r="2.3" fill="#9a9a9a"/>
<circle cx="121.20" cy="321.90" r="2.3" fill="#9a9a9a"/>
<circle cx="154.80" cy="296.80" r="2.3" fill="#9a9a9a"/>
<circle cx="141.00" cy="311.20" r="2.3" fill="#9a9a9a"/>
<circle cx="172.90" cy="322.80" r="2.3" fill="#9a9a9a"/>
<circle cx="84.10" cy="326.20" r="2.3" fill="#9a9a9a"/>
<circle cx="120.50" cy="323.80" r="2.3" fill="#9a9a9a"/>
<circle cx="124.20" cy="327.30" r="2.3" fill="#9a9a9a"/>
<circle cx="127.30" cy="329.90" r="2.3" fill="#9a9a9a"/>
<circle cx="143.80" cy="329.30" r="2.3" fill="#9a9a9a"/>
<circle cx="144.10" cy="328.70" r="2.3" fill="#9a9a9a"/>
<circle cx="154.40" cy="332.00" r="2.3" fill="#9a9a9a"/>
<circle cx="172.30" cy="333.00" r="2.3" fill="#9a9a9a"/>
<circle cx="187.70" cy="330.80" r="2.3" fill="#9a9a9a"/>
<polygon points="158.70,334.30 164.30,334.30 161.50,339.50" fill="#9a9a9a"/>
<circle cx="199.10" cy="342.30" r="2.3" fill="#9a9a9a"/>
<polygon points="80.00,237.00 80.88,239.39 83.42,239.49 81.43,241.06 82.12,243.51 80.00,242.10 77.88,243.51 78.57,241.06 76.58,239.49 79.12,239.39" fill="#111"/>
<polygon points="116.40,239.70 117.28,242.09 119.82,242.19 117.83,243.76 118.52,246.21 116.40,244.80 114.28,246.21 114.97,243.76 112.98,242.19 115.52,242.09" fill="#111"/>
<polygon points="67.00,263.90 70.50,267.40 67.00,270.90 63.50,267.40" fill="#111"/>
<rect x="105.40" y="266.60" width="4.8" height="4.8" fill="#111"/>
<polygon points="50.20,269.20 53.70,272.70 50.20,276.20 46.70,272.70" fill="#111"/>
<rect x="57.60" y="273.80" width="4.8" height="4.8" fill="#111"/>
<rect x="73.10" y="274.40" width="4.8" height="4.8" fill="#111"/>
<polygon points="116.60,270.10 117.48,272.49 120.02,272.59 118.03,274.16 118.72,276.61 116.60,275.20 114.48,276.61 115.17,274.16 113.18,272.59 115.72,272.49" fill="#111"/>
<polygon points="93.40,280.40 94.28,282.79 96.82,282.89 94.83,284.46 95.52,286.91 93.40,285.50 91.28,286.91 91.97,284.46 89.98,282.89 92.52,282.79" fill="#111"/>
<polygon points="98.50,282.50 99.38,284.89 101.92,284.99 99.93,286.56 100.62,289.01 98.50,287.60 96.38,289.01 97.07,286.56 95.08,284.99 97.62,284.89" fill="#111"/>
<rect x="74.50" y="284.50" width="4.8" height="4.8" fill="#111"/>
<polygon points="62.50,289.50 63.38,291.89 65.92,291.99 63.93,293.56 64.62,296.01 62.50,294.60 60.38,296.01 61.07,293.56 59.08,291.99 61.62,291.89" fill="#111"/>
<polygon points="143.20,279.80 144.08,282.19 146.62,282.29 144.63,283.86 145.32,286.31 143.20,284.90 141.08,286.31 141.77,283.86 139.78,282.29 142.32,282.19" fill="#111"/>
<rect x="141.90" y="278.10" width="4.8" height="4.8" fill="#111"/>
<rect x="109.10" y="302.60" width="4.8" height="4.8" fill="#111"/>
<polygon points="175.40,245.40 176.28,247.79 178.82,247.89 176.83,249.46 177.52,251.91 175.40,250.50 173.28,251.91 173.97,249.46 171.98,247.89 174.52,247.79" fill="#111"/>
<rect x="144.20" y="258.00" width="4.8" height="4.8" fill="#111"/>
<polygon points="157.50,268.10 158.38,270.49 160.92,270.59 158.93,272.16 159.62,274.61 157.50,273.20 155.38,274.61 156.07,272.16 154.08,270.59 156.62,270.49" fill="#111"/>
<rect x="169.90" y="271.30" width="4.8" height="4.8" fill="#111"/>
<polygon points="204.80,273.20 205.68,275.59 208.22,275.69 206.23,277.26 206.92,279.71 204.80,278.30 202.68,279.71 203.37,277.26 201.38,275.69 203.92,275.59" fill="#111"/>
<rect x="149.30" y="285.70" width="4.8" height="4.8" fill="#111"/>
<rect x="153.00" y="290.70" width="4.8" height="4.8" fill="#111"/>
<polygon points="164.70,290.10 165.58,292.49 168.12,292.59 166.13,294.16 166.82,296.61 164.70,295.20 162.58,296.61 163.27,294.16 161.28,292.59 163.82,292.49" fill="#111"/>
<polygon points="184.20,293.20 185.08,295.59 187.62,295.69 185.63,297.26 186.32,299.71 184.20,298.30 182.08,299.71 182.77,297.26 180.78,295.69 183.32,295.59" fill="#111"/>
<rect x="192.10" y="301.60" width="4.8" height="4.8" fill="#111"/>
<path d="M490.50 292.70H482.30M485.90 290.30L482.30 292.70L485.90 295.10" stroke="#a8a8a8" stroke-width="0.8" fill="none"/>
<path d="M406.20 316.30H398.00M401.60 313.90L398.00 316.30L401.60 318.70" stroke="#a8a8a8" stroke-width="0.8" fill="none"/>
<path d="M363.30 344.30H355.10M358.70 341.90L355.10 344.30L358.70 346.70" stroke="#a8a8a8" stroke-width="0.8" fill="none"/>
<path d="M362.60 349.90H354.40M358.00 347.50L354.40 349.90L358.00 352.30" stroke="#a8a8a8" stroke-width="0.8" fill="none"/>
<path d="M374.40 351.30H366.20M369.80 348.90L366.20 351.30L369.80 353.70" stroke="#a8a8a8" stroke-width="0.8" fill="none"/>
<path d="M366.80 361.80H358.60M362.20 359.40L358.60 361.80L362.20 364.20" stroke="#a8a8a8" stroke-width="0.8" fill="none"/>
<path d="M360.00 367.40H351.80M355.40 365.00L351.80 367.40L355.40 369.80" stroke="#a8a8a8" stroke-width="0.8" fill="none"/>
<path d="M351.30 376.60H343.10M346.70 374.20L343.10 376.60L346.70 379.00" stroke="#a8a8a8" stroke-width="0.8" fill="none"/>
<path d="M314.30 384.50H306.10M309.70 382.10L306.10 384.50L309.70 386.90" stroke="#a8a8a8" stroke-width="0.8" fill="none"/>
<path d="M398.70 331.40H390.50M394.10 329.00L390.50 331.40L394.10 333.80" stroke="#a8a8a8" stroke-width="0.8" fill="none"/>
<path d="M400.70 341.00H392.50M396.10 338.60L392.50 341.00L396.10 343.40" stroke="#a8a8a8" stroke-width="0.8" fill="none"/>
<path d="M420.60 328.70H412.40M416.00 326.30L412.40 328.70L416.00 331.10" stroke="#a8a8a8" stroke-width="0.8" fill="none"/>
<path d="M408.60 336.10H400.40M404.00 333.70L400.40 336.10L404.00 338.50" stroke="#a8a8a8" stroke-width="0.8" fill="none"/>
<path d="M438.10 334.00H429.90M433.50 331.60L429.90 334.00L433.50 336.40" stroke="#a8a8a8" stroke-width="0.8" fill="none"/>
<path d="M479.20 345.20H471.00M474.60 342.80L471.00 345.20L474.60 347.60" stroke="#a8a8a8" stroke-width="0.8" fill="none"/>
<path d="M476.50 360.20H468.30M471.90 357.80L468.30 360.20L471.90 362.60" stroke="#a8a8a8" stroke-width="0.8" fill="none"/>
<path d="M431.30 373.10H423.10M426.70 370.70L423.10 373.10L426.70 375.50" stroke="#a8a8a8" stroke-width="0.8" fill="none"/>
<path d="M380.10 286.50H371.90M375.50 284.10L371.90 286.50L375.50 288.90" stroke="#a8a8a8" stroke-width="0.8" fill="none"/>
<path d="M365.70 295.80H357.50M361.10 293.40L357.50 295.80L361.10 298.20" stroke="#a8a8a8" stroke-width="0.8" fill="none"/>
<path d="M333.80 306.50H325.60M329.20 304.10L325.60 306.50L329.20 308.90" stroke="#a8a8a8" stroke-width="0.8" fill="none"/>
<path d="M324.60 309.50H316.40M320.00 307.10L316.40 309.50L320.00 311.90" stroke="#a8a8a8" stroke-width="0.8" fill="none"/>
<path d="M362.00 312.20H353.80M357.40 309.80L353.80 312.20L357.40 314.60" stroke="#a8a8a8" stroke-width="0.8" fill="none"/>
<path d="M363.30 321.90H355.10M358.70 319.50L355.10 321.90L358.70 324.30" stroke="#a8a8a8" stroke-width="0.8" fill="none"/>
<path d="M376.00 314.30H367.80M371.40 311.90L367.80 314.30L371.40 316.70" stroke="#a8a8a8" stroke-width="0.8" fill="none"/>
<path d="M395.60 317.80H387.40M391.00 315.40L387.40 317.80L391.00 320.20" stroke="#a8a8a8" stroke-width="0.8" fill="none"/>
<path d="M399.70 296.40H391.50M395.10 294.00L391.50 296.40L395.10 298.80" stroke="#a8a8a8" stroke-width="0.8" fill="none"/>
<path d="M343.50 336.50H335.30M338.90 334.10L335.30 336.50L338.90 338.90" stroke="#a8a8a8" stroke-width="0.8" fill="none"/>
<path d="M394.50 346.40H386.30M389.90 344.00L386.30 346.40L389.90 348.80" stroke="#a8a8a8" stroke-width="0.8" fill="none"/>
<path d="M458.60 343.10H450.40M454.00 340.70L450.40 343.10L454.00 345.50" stroke="#a8a8a8" stroke-width="0.8" fill="none"/>
<path d="M339.40 260.40H331.20M334.80 258.00L331.20 260.40L334.80 262.80" stroke="#a8a8a8" stroke-width="0.8" fill="none"/>
<path d="M375.60 261.80H367.40M371.00 259.40L367.40 261.80L371.00 264.20" stroke="#a8a8a8" stroke-width="0.8" fill="none"/>
<path d="M334.90 273.10H326.70M330.30 270.70L326.70 273.10L330.30 275.50" stroke="#a8a8a8" stroke-width="0.8" fill="none"/>
<path d="M319.40 289.00H311.20M314.80 286.60L311.20 289.00L314.80 291.40" stroke="#a8a8a8" stroke-width="0.8" fill="none"/>
<path d="M353.00 289.00H344.80M348.40 286.60L344.80 289.00L348.40 291.40" stroke="#a8a8a8" stroke-width="0.8" fill="none"/>
<path d="M366.80 286.50H358.60M362.20 284.10L358.60 286.50L362.20 288.90" stroke="#a8a8a8" stroke-width="0.8" fill="none"/>
<path d="M336.30 296.40H328.10M331.70 294.00L328.10 296.40L331.70 298.80" stroke="#a8a8a8" stroke-width="0.8" fill="none"/>
<path d="M321.50 301.30H313.30M316.90 298.90L313.30 301.30L316.90 303.70" stroke="#a8a8a8" stroke-width="0.8" fill="none"/>
<path d="M357.90 306.70H349.70M353.30 304.30L349.70 306.70L353.30 309.10" stroke="#a8a8a8" stroke-width="0.8" fill="none"/>
<path d="M370.90 307.50H362.70M366.30 305.10L362.70 307.50L366.30 309.90" stroke="#a8a8a8" stroke-width="0.8" fill="none"/>
<path d="M402.80 284.40H394.60M398.20 282.00L394.60 284.40L398.20 286.80" stroke="#a8a8a8" stroke-width="0.8" fill="none"/>
<path d="M402.40 303.00H394.20M397.80 300.60L394.20 303.00L397.80 305.40" stroke="#a8a8a8" stroke-width="0.8" fill="none"/>
<path d="M434.60 264.90H426.40M430.00 262.50L426.40 264.90L430.00 267.30" stroke="#a8a8a8" stroke-width="0.8" fill="none"/>
<path d="M443.60 270.00H435.40M439.00 267.60L435.40 270.00L439.00 272.40" stroke="#a8a8a8" stroke-width="0.8" fill="none"/>
<path d="M405.80 272.10H397.60M401.20 269.70L397.60 272.10L401.20 274.50" stroke="#a8a8a8" stroke-width="0.8" fill="none"/>
<path d="M416.50 275.80H408.30M411.90 273.40L408.30 275.80L411.90 278.20" stroke="#a8a8a8" stroke-width="0.8" fill="none"/>
<path d="M464.20 279.90H456.00M459.60 277.50L456.00 279.90L459.60 282.30" stroke="#a8a8a8" stroke-width="0.8" fill="none"/>
<path d="M454.10 290.00H445.90M449.50 287.60L445.90 290.00L449.50 292.40" stroke="#a8a8a8" stroke-width="0.8" fill="none"/>
<path d="M424.10 294.70H415.90M419.50 292.30L415.90 294.70L419.50 297.10" stroke="#a8a8a8" stroke-width="0.8" fill="none"/>
<polygon points="487.80,290.70 493.20,290.70 490.50,295.50" fill="none" stroke="#8c8c8c" stroke-width="0.8"/>
<polygon points="417.50,309.60 422.90,309.60 420.20,314.40" fill="none" stroke="#8c8c8c" stroke-width="0.8"/>
<polygon points="403.50,314.30 408.90,314.30 406.20,319.10" fill="none" stroke="#8c8c8c" stroke-width="0.8"/>
<polygon points="433.90,312.90 439.30,312.90 436.60,317.70" fill="none" stroke="#8c8c8c" stroke-width="0.8"/>
<polygon points="417.90,318.40 423.30,318.40 420.60,323.20" fill="none" stroke="#8c8c8c" stroke-width="0.8"/>
<polygon points="372.90,327.30 378.30,327.30 375.60,332.10" fill="none" stroke="#8c8c8c" stroke-width="0.8"/>
<polygon points="360.60,342.30 366.00,342.30 363.30,347.10" fill="none" stroke="#8c8c8c" stroke-width="0.8"/>
<polygon points="359.90,347.90 365.30,347.90 362.60,352.70" fill="none" stroke="#8c8c8c" stroke-width="0.8"/>
<polygon points="374.40,347.40 375.37,349.97 378.11,350.09 375.97,351.81 376.69,354.46 374.40,352.95 372.11,354.46 372.83,351.81 370.69,350.09 373.43,349.97" fill="none" stroke="#8c8c8c" stroke-width="0.8"/>
<polygon points="380.50,346.00 381.47,348.57 384.21,348.69 382.07,350.41 382.79,353.06 380.50,351.55 378.21,353.06 378.93,350.41 376.79,348.69 379.53,348.57" fill="none" stroke="#8c8c8c" stroke-width="0.8"/>
<polygon points="308.10,356.30 309.07,358.87 311.81,358.99 309.67,360.71 310.39,363.36 308.10,361.85 305.81,363.36 306.53,360.71 304.39,358.99 307.13,358.87" fill="none" stroke="#8c8c8c" stroke-width="0.8"/>
<polygon points="364.10,359.80 369.50,359.80 366.80,364.60" fill="none" stroke="#8c8c8c" stroke-width="0.8"/>
<polygon points="357.30,365.40 362.70,365.40 360.00,370.20" fill="none" stroke="#8c8c8c" stroke-width="0.8"/>
<polygon points="348.60,374.60 354.00,374.60 351.30,379.40" fill="none" stroke="#8c8c8c" stroke-width="0.8"/>
<polygon points="314.30,380.60 318.20,384.50 314.30,388.40 310.40,384.50" fill="none" stroke="#8c8c8c" stroke-width="0.8"/>
<polygon points="396.00,329.40 401.40,329.40 398.70,334.20" fill="none" stroke="#8c8c8c" stroke-width="0.8"/>
<polygon points="398.00,339.00 403.40,339.00 400.70,343.80" fill="none" stroke="#8c8c8c" stroke-width="0.8"/>
<polygon points="397.00,319.10 402.40,319.10 399.70,323.90" fill="none" stroke="#8c8c8c" stroke-width="0.8"/>
<polygon points="417.90,326.70 423.30,326.70 420.60,331.50" fill="none" stroke="#8c8c8c" stroke-width="0.8"/>
<polygon points="408.60,332.20 409.57,334.77 412.31,334.89 410.17,336.61 410.89,339.26 408.60,337.75 406.31,339.26 407.03,336.61 404.89,334.89 407.63,334.77" fill="none" stroke="#8c8c8c" stroke-width="0.8"/>
<polygon points="399.40,335.50 404.80,335.50 402.10,340.30" fill="none" stroke="#8c8c8c" stroke-width="0.8"/>
<polygon points="398.90,339.00 404.30,339.00 401.60,343.80" fill="none" stroke="#8c8c8c" stroke-width="0.8"/>
<polygon points="435.40,332.00 440.80,332.00 438.10,336.80" fill="none" stroke="#8c8c8c" stroke-width="0.8"/>
<polygon points="455.90,329.40 461.30,329.40 458.60,334.20" fill="none" stroke="#8c8c8c" stroke-width="0.8"/>
<polygon points="440.90,339.00 446.30,339.00 443.60,343.80" fill="none" stroke="#8c8c8c" stroke-width="0.8"/>
<polygon points="433.90,343.20 439.30,343.20 436.60,348.00" fill="none" stroke="#8c8c8c" stroke-width="0.8"/>
<polygon points="451.20,344.80 456.60,344.80 453.90,349.60" fill="none" stroke="#8c8c8c" stroke-width="0.8"/>
<polygon points="460.70,341.30 466.10,341.30 463.40,346.10" fill="none" stroke="#8c8c8c" stroke-width="0.8"/>
<polygon points="479.20,341.30 480.17,343.87 482.91,343.99 480.77,345.71 481.49,348.36 479.20,346.85 476.91,348.36 477.63,345.71 475.49,343.99 478.23,343.87" fill="none" stroke="#8c8c8c" stroke-width="0.8"/>
<polygon points="427.10,348.90 432.50,348.90 429.80,353.70" fill="none" stroke="#8c8c8c" stroke-width="0.8"/>
<polygon points="428.20,354.10 433.60,354.10 430.90,358.90" fill="none" stroke="#8c8c8c" stroke-width="0.8"/>
<polygon points="476.50,356.30 477.47,358.87 480.21,358.99 478.07,360.71 478.79,363.36 476.50,361.85 474.21,363.36 474.93,360.71 472.79,358.99 475.53,358.87" fill="none" stroke="#8c8c8c" stroke-width="0.8"/>
<polygon points="475.10,355.50 480.50,355.50 477.80,360.30" fill="none" stroke="#8c8c8c" stroke-width="0.8"/>
<polygon points="410.70,362.30 416.10,362.30 413.40,367.10" fill="none" stroke="#8c8c8c" stroke-width="0.8"/>
<polygon points="414.20,362.30 419.60,362.30 416.90,367.10" fill="none" stroke="#8c8c8c" stroke-width="0.8"/>
<polygon points="444.20,365.00 449.60,365.00 446.90,369.80" fill="none" stroke="#8c8c8c" stroke-width="0.8"/>
<polygon points="428.60,371.10 434.00,371.10 431.30,375.90" fill="none" stroke="#8c8c8c" stroke-width="0.8"/>
<polygon points="437.40,369.90 442.80,369.90 440.10,374.70" fill="none" stroke="#8c8c8c" stroke-width="0.8"/>
<circle cx="380.10" cy="286.50" r="2.3" fill="#9a9a9a"/>
<circle cx="381.80" cy="287.50" r="2.3" fill="#9a9a9a"/>
<circle cx="365.70" cy="295.80" r="2.3" fill="#9a9a9a"/>
<circle cx="333.80" cy="306.50" r="2.3" fill="#9a9a9a"/>
<circle cx="324.60" cy="309.50" r="2.3" fill="#9a9a9a"/>
<circle cx="362.00" cy="312.20" r="2.3" fill="#9a9a9a"/>
<circle cx="363.30" cy="321.90" r="2.3" fill="#9a9a9a"/>
<polygon points="376.00,310.90 376.82,313.17 379.23,313.25 377.33,314.73 378.00,317.05 376.00,315.70 374.00,317.05 374.67,314.73 372.77,313.25 375.18,313.17" fill="#9a9a9a"/>
<circle cx="381.20" cy="317.40" r="2.3" fill="#9a9a9a"/>
<circle cx="383.20" cy="317.80" r="2.3" fill="#9a9a9a"/>
<circle cx="387.30" cy="318.40" r="2.3" fill="#9a9a9a"/>
<circle cx="395.60" cy="317.80" r="2.3" fill="#9a9a9a"/>
<circle cx="399.70" cy="296.40" r="2.3" fill="#9a9a9a"/>
<circle cx="400.00" cy="295.80" r="2.3" fill="#9a9a9a"/>
<circle cx="409.30" cy="313.20" r="2.3" fill="#9a9a9a"/>
<circle cx="412.30" cy="312.80" r="2.3" fill="#9a9a9a"/>
<circle cx="414.40" cy="313.70" r="2.3" fill="#9a9a9a"/>
<circle cx="431.90" cy="323.50" r="2.3" fill="#9a9a9a"/>
<circle cx="343.50" cy="336.50" r="2.3" fill="#9a9a9a"/>
<circle cx="368.20" cy="344.30" r="2.3" fill="#9a9a9a"/>
<circle cx="372.90" cy="342.30" r="2.3" fill="#9a9a9a"/>
<polygon points="394.50,343.00 395.32,345.27 397.73,345.35 395.83,346.83 396.50,349.15 394.50,347.80 392.50,349.15 393.17,346.83 391.27,345.35 393.68,345.27" fill="#9a9a9a"/>
<circle cx="402.80" cy="327.30" r="2.3" fill="#9a9a9a"/>
<circle cx="385.30" cy="319.00" r="2.3" fill="#9a9a9a"/>
<circle cx="403.70" cy="326.60" r="2.3" fill="#9a9a9a"/>
<circle cx="447.30" cy="332.40" r="2.3" fill="#9a9a9a"/>
<circle cx="458.60" cy="343.10" r="2.3" fill="#9a9a9a"/>
<circle cx="420.00" cy="351.30" r="2.3" fill="#9a9a9a"/>
<polygon points="339.40,256.80 340.28,259.19 342.82,259.29 340.83,260.86 341.52,263.31 339.40,261.90 337.28,263.31 337.97,260.86 335.98,259.29 338.52,259.19" fill="#111"/>
<polygon points="375.60,258.20 376.48,260.59 379.02,260.69 377.03,262.26 377.72,264.71 375.60,263.30 373.48,264.71 374.17,262.26 372.18,260.69 374.72,260.59" fill="#111"/>
<rect x="332.50" y="270.70" width="4.8" height="4.8" fill="#111"/>
<polygon points="309.10,276.80 312.60,280.30 309.10,283.80 305.60,280.30" fill="#111"/>
<rect x="317.00" y="286.60" width="4.8" height="4.8" fill="#111"/>
<polygon points="326.60,286.10 330.10,289.60 326.60,293.10 323.10,289.60" fill="#111"/>
<polygon points="353.00,285.40 353.88,287.79 356.42,287.89 354.43,289.46 355.12,291.91 353.00,290.50 350.88,291.91 351.57,289.46 349.58,287.89 352.12,287.79" fill="#111"/>
<rect x="364.40" y="284.10" width="4.8" height="4.8" fill="#111"/>
<rect x="333.90" y="294.00" width="4.8" height="4.8" fill="#111"/>
<polygon points="321.50,297.70 322.38,300.09 324.92,300.19 322.93,301.76 323.62,304.21 321.50,302.80 319.38,304.21 320.07,301.76 318.08,300.19 320.62,300.09" fill="#111"/>
<polygon points="357.90,303.10 358.78,305.49 361.32,305.59 359.33,307.16 360.02,309.61 357.90,308.20 355.78,309.61 356.47,307.16 354.48,305.59 357.02,305.49" fill="#111"/>
<rect x="368.50" y="305.10" width="4.8" height="4.8" fill="#111"/>
<rect x="400.40" y="282.00" width="4.8" height="4.8" fill="#111"/>
<polygon points="402.40,299.40 403.28,301.79 405.82,301.89 403.83,303.46 404.52,305.91 402.40,304.50 400.28,305.91 400.97,303.46 398.98,301.89 401.52,301.79" fill="#111"/>
<polygon points="434.60,261.30 435.48,263.69 438.02,263.79 436.03,265.36 436.72,267.81 434.60,266.40 432.48,267.81 433.17,265.36 431.18,263.79 433.72,263.69" fill="#111"/>
<polygon points="443.60,266.40 444.48,268.79 447.02,268.89 445.03,270.46 445.72,272.91 443.60,271.50 441.48,272.91 442.17,270.46 440.18,268.89 442.72,268.79" fill="#111"/>
<rect x="403.40" y="269.70" width="4.8" height="4.8" fill="#111"/>
<polygon points="416.50,272.20 417.38,274.59 419.92,274.69 417.93,276.26 418.62,278.71 416.50,277.30 414.38,278.71 415.07,276.26 413.08,274.69 415.62,274.59" fill="#111"/>
<rect x="429.50" y="272.80" width="4.8" height="4.8" fill="#111"/>
<polygon points="464.20,276.30 465.08,278.69 467.62,278.79 465.63,280.36 466.32,282.81 464.20,281.40 462.08,282.81 462.77,280.36 460.78,278.79 463.32,278.69" fill="#111"/>
<rect x="401.30" y="282.00" width="4.8" height="4.8" fill="#111"/>
<rect x="413.00" y="286.20" width="4.8" height="4.8" fill="#111"/>
<rect x="451.70" y="287.60" width="4.8" height="4.8" fill="#111"/>
<polygon points="424.10,291.10 424.98,293.49 427.52,293.59 425.53,295.16 426.22,297.61 424.10,296.20 421.98,297.61 422.67,295.16 420.68,293.59 423.22,293.49" fill="#111"/>
<polygon points="402.50,299.80 403.38,302.19 405.92,302.29 403.93,303.86 404.62,306.31 402.50,304.90 400.38,306.31 401.07,303.86 399.08,302.29 401.62,302.19" fill="#111"/>
<path d="M633.60 305.00H625.40M629.00 302.60L625.40 305.00L629.00 307.40" stroke="#a8a8a8" stroke-width="0.8" fill="none"/>
<path d="M619.60 321.90H611.40M615.00 319.50L611.40 321.90L615.00 324.30" stroke="#a8a8a8" stroke-width="0.8" fill="none"/>
<path d="M736.10 306.70H727.90M731.50 304.30L727.90 306.70L731.50 309.10" stroke="#a8a8a8" stroke-width="0.8" fill="none"/>
<path d="M619.60 322.10H611.40M615.00 319.70L611.40 322.10L615.00 324.50" stroke="#a8a8a8" stroke-width="0.8" fill="none"/>
<path d="M636.00 329.30H627.80M631.40 326.90L627.80 329.30L631.40 331.70" stroke="#a8a8a8" stroke-width="0.8" fill="none"/>
<path d="M639.50 333.40H631.30M634.90 331.00L631.30 333.40L634.90 335.80" stroke="#a8a8a8" stroke-width="0.8" fill="none"/>
<path d="M661.40 319.60H653.20M656.80 317.20L653.20 319.60L656.80 322.00" stroke="#a8a8a8" stroke-width="0.8" fill="none"/>
<path d="M610.30 337.50H602.10M605.70 335.10L602.10 337.50L605.70 339.90" stroke="#a8a8a8" stroke-width="0.8" fill="none"/>
<path d="M623.70 347.80H615.50M619.10 345.40L615.50 347.80L619.10 350.20" stroke="#a8a8a8" stroke-width="0.8" fill="none"/>
<path d="M621.20 353.40H613.00M616.60 351.00L613.00 353.40L616.60 355.80" stroke="#a8a8a8" stroke-width="0.8" fill="none"/>
<path d="M658.70 345.80H650.50M654.10 343.40L650.50 345.80L654.10 348.20" stroke="#a8a8a8" stroke-width="0.8" fill="none"/>
<path d="M657.70 379.70H649.50M653.10 377.30L649.50 379.70L653.10 382.10" stroke="#a8a8a8" stroke-width="0.8" fill="none"/>
<path d="M660.10 390.00H651.90M655.50 387.60L651.90 390.00L655.50 392.40" stroke="#a8a8a8" stroke-width="0.8" fill="none"/>
<path d="M659.70 399.30H651.50M655.10 396.90L651.50 399.30L655.10 401.70" stroke="#a8a8a8" stroke-width="0.8" fill="none"/>
<path d="M667.80 348.90H659.60M663.20 346.50L659.60 348.90L663.20 351.30" stroke="#a8a8a8" stroke-width="0.8" fill="none"/>
<path d="M717.60 351.30H709.40M713.00 348.90L709.40 351.30L713.00 353.70" stroke="#a8a8a8" stroke-width="0.8" fill="none"/>
<path d="M697.70 369.40H689.50M693.10 367.00L689.50 369.40L693.10 371.80" stroke="#a8a8a8" stroke-width="0.8" fill="none"/>
<path d="M690.50 388.00H682.30M685.90 385.60L682.30 388.00L685.90 390.40" stroke="#a8a8a8" stroke-width="0.8" fill="none"/>
<path d="M622.30 312.80H614.10M617.70 310.40L614.10 312.80L617.70 315.20" stroke="#a8a8a8" stroke-width="0.8" fill="none"/>
<path d="M625.10 316.30H616.90M620.50 313.90L616.90 316.30L620.50 318.70" stroke="#a8a8a8" stroke-width="0.8" fill="none"/>
<path d="M631.90 321.10H623.70M627.30 318.70L623.70 321.10L627.30 323.50" stroke="#a8a8a8" stroke-width="0.8" fill="none"/>
<path d="M673.40 313.20H665.20M668.80 310.80L665.20 313.20L668.80 315.60" stroke="#a8a8a8" stroke-width="0.8" fill="none"/>
<path d="M723.40 309.50H715.20M718.80 307.10L715.20 309.50L718.80 311.90" stroke="#a8a8a8" stroke-width="0.8" fill="none"/>
<path d="M585.20 323.60H577.00M580.60 321.20L577.00 323.60L580.60 326.00" stroke="#a8a8a8" stroke-width="0.8" fill="none"/>
<path d="M592.80 325.20H584.60M588.20 322.80L584.60 325.20L588.20 327.60" stroke="#a8a8a8" stroke-width="0.8" fill="none"/>
<path d="M595.90 327.90H587.70M591.30 325.50L587.70 327.90L591.30 330.30" stroke="#a8a8a8" stroke-width="0.8" fill="none"/>
<path d="M632.30 321.50H624.10M627.70 319.10L624.10 321.50L627.70 323.90" stroke="#a8a8a8" stroke-width="0.8" fill="none"/>
<path d="M641.20 325.80H633.00M636.60 323.40L633.00 325.80L636.60 328.20" stroke="#a8a8a8" stroke-width="0.8" fill="none"/>
<path d="M653.50 325.80H645.30M648.90 323.40L645.30 325.80L648.90 328.20" stroke="#a8a8a8" stroke-width="0.8" fill="none"/>
<path d="M659.30 329.90H651.10M654.70 327.50L651.10 329.90L654.70 332.30" stroke="#a8a8a8" stroke-width="0.8" fill="none"/>
<path d="M627.20 333.40H619.00M622.60 331.00L619.00 333.40L622.60 335.80" stroke="#a8a8a8" stroke-width="0.8" fill="none"/>
<path d="M630.50 337.50H622.30M625.90 335.10L622.30 337.50L625.90 339.90" stroke="#a8a8a8" stroke-width="0.8" fill="none"/>
<path d="M638.70 343.70H630.50M634.10 341.30L630.50 343.70L634.10 346.10" stroke="#a8a8a8" stroke-width="0.8" fill="none"/>
<path d="M584.20 342.70H576.00M579.60 340.30L576.00 342.70L579.60 345.10" stroke="#a8a8a8" stroke-width="0.8" fill="none"/>
<path d="M645.70 364.90H637.50M641.10 362.50L637.50 364.90L641.10 367.30" stroke="#a8a8a8" stroke-width="0.8" fill="none"/>
<path d="M713.90 332.80H705.70M709.30 330.40L705.70 332.80L709.30 335.20" stroke="#a8a8a8" stroke-width="0.8" fill="none"/>
<path d="M598.40 236.50H590.20M593.80 234.10L590.20 236.50L593.80 238.90" stroke="#a8a8a8" stroke-width="0.8" fill="none"/>
<path d="M626.40 251.50H618.20M621.80 249.10L618.20 251.50L621.80 253.90" stroke="#a8a8a8" stroke-width="0.8" fill="none"/>
<path d="M635.00 257.70H626.80M630.40 255.30L626.80 257.70L630.40 260.10" stroke="#a8a8a8" stroke-width="0.8" fill="none"/>
<path d="M593.90 263.50H585.70M589.30 261.10L585.70 263.50L589.30 265.90" stroke="#a8a8a8" stroke-width="0.8" fill="none"/>
<path d="M578.40 266.50H570.20M573.80 264.10L570.20 266.50L573.80 268.90" stroke="#a8a8a8" stroke-width="0.8" fill="none"/>
<path d="M612.00 277.20H603.80M607.40 274.80L603.80 277.20L607.40 279.60" stroke="#a8a8a8" stroke-width="0.8" fill="none"/>
<path d="M581.10 287.10H572.90M576.50 284.70L572.90 287.10L576.50 289.50" stroke="#a8a8a8" stroke-width="0.8" fill="none"/>
<path d="M617.10 293.70H608.90M612.50 291.30L608.90 293.70L612.50 296.10" stroke="#a8a8a8" stroke-width="0.8" fill="none"/>
<path d="M635.40 294.30H627.20M630.80 291.90L627.20 294.30L630.80 296.70" stroke="#a8a8a8" stroke-width="0.8" fill="none"/>
<path d="M654.60 308.10H646.40M650.00 305.70L646.40 308.10L650.00 310.50" stroke="#a8a8a8" stroke-width="0.8" fill="none"/>
<path d="M665.10 247.00H656.90M660.50 244.60L656.90 247.00L660.50 249.40" stroke="#a8a8a8" stroke-width="0.8" fill="none"/>
<path d="M693.50 245.30H685.30M688.90 242.90L685.30 245.30L688.90 247.70" stroke="#a8a8a8" stroke-width="0.8" fill="none"/>
<path d="M675.40 254.20H667.20M670.80 251.80L667.20 254.20L670.80 256.60" stroke="#a8a8a8" stroke-width="0.8" fill="none"/>
<path d="M674.00 276.80H665.80M669.40 274.40L665.80 276.80L669.40 279.20" stroke="#a8a8a8" stroke-width="0.8" fill="none"/>
<path d="M683.30 275.20H675.10M678.70 272.80L675.10 275.20L678.70 277.60" stroke="#a8a8a8" stroke-width="0.8" fill="none"/>
<path d="M703.20 285.50H695.00M698.60 283.10L695.00 285.50L698.60 287.90" stroke="#a8a8a8" stroke-width="0.8" fill="none"/>
<polygon points="633.60,301.10 634.57,303.67 637.31,303.79 635.17,305.51 635.89,308.16 633.60,306.65 631.31,308.16 632.03,305.51 629.89,303.79 632.63,303.67" fill="none" stroke="#8c8c8c" stroke-width="0.8"/>
<polygon points="616.90,319.90 622.30,319.90 619.60,324.70" fill="none" stroke="#8c8c8c" stroke-width="0.8"/>
<polygon points="736.10,302.80 737.07,305.37 739.81,305.49 737.67,307.21 738.39,309.86 736.10,308.35 733.81,309.86 734.53,307.21 732.39,305.49 735.13,305.37" fill="none" stroke="#8c8c8c" stroke-width="0.8"/>
<polygon points="738.20,306.30 739.17,308.87 741.91,308.99 739.77,310.71 740.49,313.36 738.20,311.85 735.91,313.36 736.63,310.71 734.49,308.99 737.23,308.87" fill="none" stroke="#8c8c8c" stroke-width="0.8"/>
<polygon points="616.90,320.10 622.30,320.10 619.60,324.90" fill="none" stroke="#8c8c8c" stroke-width="0.8"/>
<polygon points="633.30,327.30 638.70,327.30 636.00,332.10" fill="none" stroke="#8c8c8c" stroke-width="0.8"/>
<polygon points="639.50,329.50 640.47,332.07 643.21,332.19 641.07,333.91 641.79,336.56 639.50,335.05 637.21,336.56 637.93,333.91 635.79,332.19 638.53,332.07" fill="none" stroke="#8c8c8c" stroke-width="0.8"/>
<polygon points="658.70,317.60 664.10,317.60 661.40,322.40" fill="none" stroke="#8c8c8c" stroke-width="0.8"/>
<polygon points="607.60,335.50 613.00,335.50 610.30,340.30" fill="none" stroke="#8c8c8c" stroke-width="0.8"/>
<polygon points="567.10,339.80 568.07,342.37 570.81,342.49 568.67,344.21 569.39,346.86 567.10,345.35 564.81,346.86 565.53,344.21 563.39,342.49 566.13,342.37" fill="none" stroke="#8c8c8c" stroke-width="0.8"/>
<polygon points="621.00,345.80 626.40,345.80 623.70,350.60" fill="none" stroke="#8c8c8c" stroke-width="0.8"/>
<polygon points="619.60,349.30 625.00,349.30 622.30,354.10" fill="none" stroke="#8c8c8c" stroke-width="0.8"/>
<polygon points="618.50,351.40 623.90,351.40 621.20,356.20" fill="none" stroke="#8c8c8c" stroke-width="0.8"/>
<polygon points="656.00,343.80 661.40,343.80 658.70,348.60" fill="none" stroke="#8c8c8c" stroke-width="0.8"/>
<polygon points="655.00,377.70 660.40,377.70 657.70,382.50" fill="none" stroke="#8c8c8c" stroke-width="0.8"/>
<polygon points="657.40,388.00 662.80,388.00 660.10,392.80" fill="none" stroke="#8c8c8c" stroke-width="0.8"/>
<polygon points="657.00,397.30 662.40,397.30 659.70,402.10" fill="none" stroke="#8c8c8c" stroke-width="0.8"/>
<polygon points="677.30,324.60 682.70,324.60 680.00,329.40" fill="none" stroke="#8c8c8c" stroke-width="0.8"/>
<polygon points="670.10,339.00 675.50,339.00 672.80,343.80" fill="none" stroke="#8c8c8c" stroke-width="0.8"/>
<polygon points="677.50,340.30 682.90,340.30 680.20,345.10" fill="none" stroke="#8c8c8c" stroke-width="0.8"/>
<polygon points="686.70,337.00 692.10,337.00 689.40,341.80" fill="none" stroke="#8c8c8c" stroke-width="0.8"/>
<polygon points="667.80,345.00 668.77,347.57 671.51,347.69 669.37,349.41 670.09,352.06 667.80,350.55 665.51,352.06 666.23,349.41 664.09,347.69 666.83,347.57" fill="none" stroke="#8c8c8c" stroke-width="0.8"/>
<polygon points="717.60,347.40 718.57,349.97 721.31,350.09 719.17,351.81 719.89,354.46 717.60,352.95 715.31,354.46 716.03,351.81 713.89,350.09 716.63,349.97" fill="none" stroke="#8c8c8c" stroke-width="0.8"/>
<polygon points="720.10,353.00 725.50,353.00 722.80,357.80" fill="none" stroke="#8c8c8c" stroke-width="0.8"/>
<polygon points="673.30,356.70 678.70,356.70 676.00,361.50" fill="none" stroke="#8c8c8c" stroke-width="0.8"/>
<polygon points="692.90,354.10 698.30,354.10 695.60,358.90" fill="none" stroke="#8c8c8c" stroke-width="0.8"/>
<polygon points="700.10,356.70 705.50,356.70 702.80,361.50" fill="none" stroke="#8c8c8c" stroke-width="0.8"/>
<polygon points="695.00,367.40 700.40,367.40 697.70,372.20" fill="none" stroke="#8c8c8c" stroke-width="0.8"/>
<polygon points="693.30,372.60 698.70,372.60 696.00,377.40" fill="none" stroke="#8c8c8c" stroke-width="0.8"/>
<polygon points="663.10,384.30 668.50,384.30 665.80,389.10" fill="none" stroke="#8c8c8c" stroke-width="0.8"/>
<polygon points="658.80,387.00 664.20,387.00 661.50,391.80" fill="none" stroke="#8c8c8c" stroke-width="0.8"/>
<polygon points="687.50,381.80 692.90,381.80 690.20,386.60" fill="none" stroke="#8c8c8c" stroke-width="0.8"/>
<polygon points="687.80,386.00 693.20,386.00 690.50,390.80" fill="none" stroke="#8c8c8c" stroke-width="0.8"/>
<polygon points="715.30,388.00 720.70,388.00 718.00,392.80" fill="none" stroke="#8c8c8c" stroke-width="0.8"/>
<polygon points="659.40,397.30 664.80,397.30 662.10,402.10" fill="none" stroke="#8c8c8c" stroke-width="0.8"/>
<polygon points="696.80,402.80 702.20,402.80 699.50,407.60" fill="none" stroke="#8c8c8c" stroke-width="0.8"/>
<polygon points="703.00,404.50 708.40,404.50 705.70,409.30" fill="none" stroke="#8c8c8c" stroke-width="0.8"/>
<polygon points="733.80,403.40 739.20,403.40 736.50,408.20" fill="none" stroke="#8c8c8c" stroke-width="0.8"/>
<circle cx="622.30" cy="312.80" r="2.3" fill="#9a9a9a"/>
<circle cx="625.10" cy="316.30" r="2.3" fill="#9a9a9a"/>
<circle cx="631.90" cy="321.10" r="2.3" fill="#9a9a9a"/>
<circle cx="674.00" cy="287.10" r="2.3" fill="#9a9a9a"/>
<circle cx="691.90" cy="310.60" r="2.3" fill="#9a9a9a"/>
<circle cx="673.40" cy="313.20" r="2.3" fill="#9a9a9a"/>
<circle cx="674.80" cy="314.30" r="2.3" fill="#9a9a9a"/>
<polygon points="723.40,306.10 724.22,308.37 726.63,308.45 724.73,309.93 725.40,312.25 723.40,310.90 721.40,312.25 722.07,309.93 720.17,308.45 722.58,308.37" fill="#9a9a9a"/>
<polygon points="662.10,315.60 662.92,317.87 665.33,317.95 663.43,319.43 664.10,321.75 662.10,320.40 660.10,321.75 660.77,319.43 658.87,317.95 661.28,317.87" fill="#9a9a9a"/>
<polygon points="585.20,320.00 588.80,323.60 585.20,327.20 581.60,323.60" fill="#9a9a9a"/>
<circle cx="592.80" cy="325.20" r="2.3" fill="#9a9a9a"/>
<circle cx="595.90" cy="327.90" r="2.3" fill="#9a9a9a"/>
<circle cx="602.70" cy="328.70" r="2.3" fill="#9a9a9a"/>
<circle cx="621.20" cy="324.80" r="2.3" fill="#9a9a9a"/>
<circle cx="632.30" cy="321.50" r="2.3" fill="#9a9a9a"/>
<circle cx="641.20" cy="325.80" r="2.3" fill="#9a9a9a"/>
<circle cx="640.20" cy="329.30" r="2.3" fill="#9a9a9a"/>
<polygon points="653.50,322.40 654.32,324.67 656.73,324.75 654.83,326.23 655.50,328.55 653.50,327.20 651.50,328.55 652.17,326.23 650.27,324.75 652.68,324.67" fill="#9a9a9a"/>
<circle cx="659.30" cy="329.90" r="2.3" fill="#9a9a9a"/>
<circle cx="627.20" cy="333.40" r="2.3" fill="#9a9a9a"/>
<circle cx="630.50" cy="337.50" r="2.3" fill="#9a9a9a"/>
<circle cx="642.20" cy="339.60" r="2.3" fill="#9a9a9a"/>
<circle cx="638.70" cy="343.70" r="2.3" fill="#9a9a9a"/>
<circle cx="584.20" cy="342.70" r="2.3" fill="#9a9a9a"/>
<circle cx="645.70" cy="364.90" r="2.3" fill="#9a9a9a"/>
<circle cx="662.50" cy="320.50" r="2.3" fill="#9a9a9a"/>
<circle cx="713.90" cy="332.80" r="2.3" fill="#9a9a9a"/>
<circle cx="660.00" cy="330.30" r="2.3" fill="#9a9a9a"/>
<circle cx="691.30" cy="344.30" r="2.3" fill="#9a9a9a"/>
<circle cx="706.30" cy="358.70" r="2.3" fill="#9a9a9a"/>
<circle cx="718.00" cy="366.40" r="2.3" fill="#9a9a9a"/>
<circle cx="679.50" cy="370.90" r="2.3" fill="#9a9a9a"/>
<polygon points="598.40,232.90 599.28,235.29 601.82,235.39 599.83,236.96 600.52,239.41 598.40,238.00 596.28,239.41 596.97,236.96 594.98,235.39 597.52,235.29" fill="#111"/>
<rect x="624.00" y="249.10" width="4.8" height="4.8" fill="#111"/>
<polygon points="635.00,254.10 635.88,256.49 638.42,256.59 636.43,258.16 637.12,260.61 635.00,259.20 632.88,260.61 633.57,258.16 631.58,256.59 634.12,256.49" fill="#111"/>
<rect x="591.50" y="261.10" width="4.8" height="4.8" fill="#111"/>
<rect x="576.00" y="264.10" width="4.8" height="4.8" fill="#111"/>
<polygon points="612.00,273.60 612.88,275.99 615.42,276.09 613.43,277.66 614.12,280.11 612.00,278.70 609.88,280.11 610.57,277.66 608.58,276.09 611.12,275.99" fill="#111"/>
<polygon points="581.10,283.50 581.98,285.89 584.52,285.99 582.53,287.56 583.22,290.01 581.10,288.60 578.98,290.01 579.67,287.56 577.68,285.99 580.22,285.89" fill="#111"/>
<polygon points="617.10,290.10 617.98,292.49 620.52,292.59 618.53,294.16 619.22,296.61 617.10,295.20 614.98,296.61 615.67,294.16 613.68,292.59 616.22,292.49" fill="#111"/>
<polygon points="635.40,290.70 636.28,293.09 638.82,293.19 636.83,294.76 637.52,297.21 635.40,295.80 633.28,297.21 633.97,294.76 631.98,293.19 634.52,293.09" fill="#111"/>
<polygon points="568.80,301.10 572.30,304.60 568.80,308.10 565.30,304.60" fill="#111"/>
<rect x="652.20" y="305.70" width="4.8" height="4.8" fill="#111"/>
<rect x="662.70" y="244.60" width="4.8" height="4.8" fill="#111"/>
<polygon points="693.50,241.70 694.38,244.09 696.92,244.19 694.93,245.76 695.62,248.21 693.50,246.80 691.38,248.21 692.07,245.76 690.08,244.19 692.62,244.09" fill="#111"/>
<polygon points="675.40,250.60 676.28,252.99 678.82,253.09 676.83,254.66 677.52,257.11 675.40,255.70 673.28,257.11 673.97,254.66 671.98,253.09 674.52,252.99" fill="#111"/>
<rect x="660.70" y="276.90" width="4.8" height="4.8" fill="#111"/>
<rect x="671.60" y="274.40" width="4.8" height="4.8" fill="#111"/>
<polygon points="683.30,271.60 684.18,273.99 686.72,274.09 684.73,275.66 685.42,278.11 683.30,276.70 681.18,278.11 681.87,275.66 679.88,274.09 682.42,273.99" fill="#111"/>
<polygon points="703.20,281.90 704.08,284.29 706.62,284.39 704.63,285.96 705.32,288.41 703.20,287.00 701.08,288.41 701.77,285.96 699.78,284.39 702.32,284.29" fill="#111"/>
<rect x="667.90" y="287.80" width="4.8" height="4.8" fill="#111"/>
<rect x="688.90" y="299.50" width="4.8" height="4.8" fill="#111"/>
<path d="M65.20 23.70H77.60M71.40 17.20V30.20M65.20 22.50V24.90M77.60 22.50V24.90M70.20 17.20H72.60M70.20 30.20H72.60" stroke="#222" stroke-width="1" fill="none"/>
<path d="M324.00 23.70H336.60M330.30 17.20V30.20M324.00 22.50V24.90M336.60 22.50V24.90M329.10 17.20H331.50M329.10 30.20H331.50" stroke="#222" stroke-width="1" fill="none"/>
<path d="M583.10 23.50H596.30M589.70 9.60V37.40M583.10 22.30V24.70M596.30 22.30V24.70M588.50 9.60H590.90M588.50 37.40H590.90" stroke="#222" stroke-width="1" fill="none"/>
<path d="M200.20 250.90H216.40M208.30 244.20V257.60M200.20 249.70V252.10M216.40 249.70V252.10M207.10 244.20H209.50M207.10 257.60H209.50" stroke="#222" stroke-width="1" fill="none"/>
<path d="M459.50 250.90H475.50M467.50 244.50V257.30M459.50 249.70V252.10M475.50 249.70V252.10M466.30 244.50H468.70M466.30 257.30H468.70" stroke="#222" stroke-width="1" fill="none"/>
<path d="M719.30 250.90H734.50M726.90 237.10V264.70M719.30 249.70V252.10M734.50 249.70V252.10M725.70 237.10H728.10M725.70 264.70H728.10" stroke="#222" stroke-width="1" fill="none"/>
</svg></body></html>
